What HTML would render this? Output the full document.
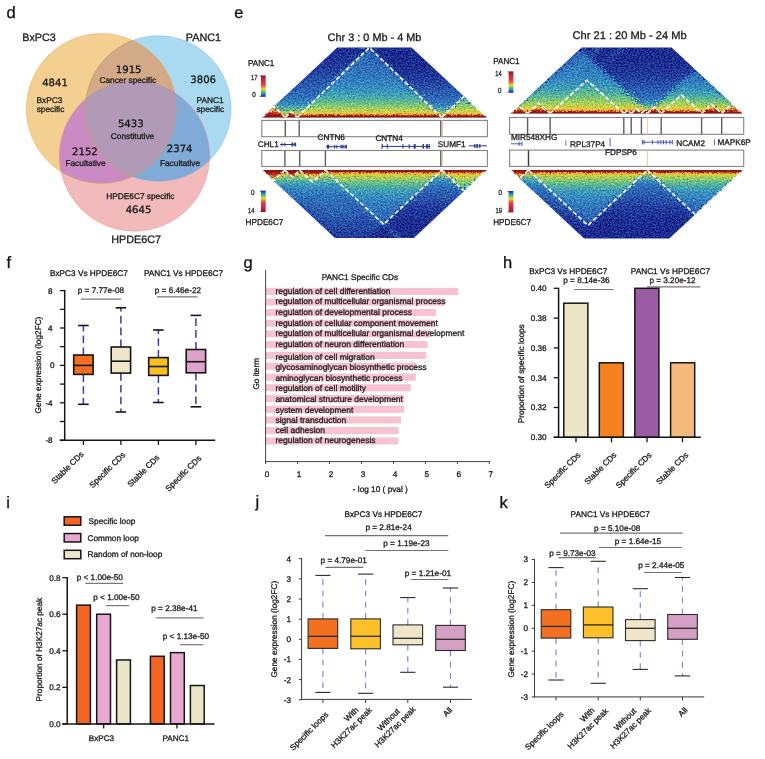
<!DOCTYPE html>
<html lang="en"><head><meta charset="utf-8"><title>Figure panels d-k</title>
<style>
html,body{margin:0;padding:0;background:#fff;}
body{width:765px;height:759px;overflow:hidden;}
svg{display:block;font-family:"Liberation Sans", Arial, sans-serif;}
</style></head><body>
<svg width="765" height="759" viewBox="0 0 765 759" text-rendering="geometricPrecision">
<rect width="765" height="759" fill="#ffffff"/>
<text x="6.60" y="18.20" font-size="16.5" text-anchor="start" fill="#111" stroke="#111" stroke-width="0.3">d</text>
<defs>
<clipPath id="cA"><circle cx="101.35" cy="108.55" r="75.0"/></clipPath>
<clipPath id="cB"><circle cx="158.25" cy="108.5" r="72.75"/></clipPath>
<clipPath id="cC"><circle cx="134.5" cy="156.1" r="75.1"/></clipPath>
</defs>
<circle cx="101.35" cy="108.55" r="75.0" fill="#F3CF92" stroke="none" stroke-width="0"/>
<circle cx="158.25" cy="108.5" r="72.75" fill="#AADAF2" stroke="none" stroke-width="0"/>
<circle cx="134.5" cy="156.1" r="75.1" fill="#F2BABB" stroke="none" stroke-width="0"/>
<circle cx="158.25" cy="108.5" r="72.75" fill="#D3AA87" stroke="none" stroke-width="0" clip-path="url(#cA)"/>
<circle cx="134.5" cy="156.1" r="75.1" fill="#CA8BC2" stroke="none" stroke-width="0" clip-path="url(#cA)"/>
<circle cx="134.5" cy="156.1" r="75.1" fill="#80AAD7" stroke="none" stroke-width="0" clip-path="url(#cB)"/>
<g clip-path="url(#cA)">
<circle cx="134.5" cy="156.1" r="75.1" fill="#B09AB6" stroke="none" stroke-width="0" clip-path="url(#cB)"/>
</g>
<circle cx="101.35" cy="108.55" r="75.0" fill="none" stroke="rgba(226,160,60,0.55)" stroke-width="0.8"/>
<circle cx="158.25" cy="108.5" r="72.75" fill="none" stroke="rgba(110,170,225,0.55)" stroke-width="0.8"/>
<circle cx="158.25" cy="108.5" r="72.75" fill="none" stroke="rgba(222,160,80,0.8)" stroke-width="0.9" clip-path="url(#cA)"/>
<circle cx="134.5" cy="156.1" r="75.1" fill="none" stroke="rgba(225,130,140,0.50)" stroke-width="0.8"/>
<text x="22.20" y="41.00" font-size="10.8" text-anchor="start" fill="#1a1a1a" stroke="#1a1a1a" stroke-width="0.3">BxPC3</text>
<text x="185.80" y="41.00" font-size="10.8" text-anchor="start" fill="#1a1a1a" stroke="#1a1a1a" stroke-width="0.3">PANC1</text>
<text x="111.30" y="242.60" font-size="10.8" text-anchor="start" fill="#1a1a1a" stroke="#1a1a1a" stroke-width="0.3">HPDE6C7</text>
<text x="55.00" y="85.60" font-size="10.1" text-anchor="middle" fill="#151515" stroke="#151515" stroke-width="0.3" font-family='"DejaVu Sans", "Liberation Sans", sans-serif'>4841</text>
<text x="128.70" y="72.80" font-size="10.1" text-anchor="middle" fill="#151515" stroke="#151515" stroke-width="0.3" font-family='"DejaVu Sans", "Liberation Sans", sans-serif'>1915</text>
<text x="203.20" y="83.00" font-size="10.1" text-anchor="middle" fill="#151515" stroke="#151515" stroke-width="0.3" font-family='"DejaVu Sans", "Liberation Sans", sans-serif'>3806</text>
<text x="130.80" y="127.40" font-size="10.1" text-anchor="middle" fill="#151515" stroke="#151515" stroke-width="0.3" font-family='"DejaVu Sans", "Liberation Sans", sans-serif'>5433</text>
<text x="84.90" y="155.30" font-size="10.1" text-anchor="middle" fill="#151515" stroke="#151515" stroke-width="0.3" font-family='"DejaVu Sans", "Liberation Sans", sans-serif'>2152</text>
<text x="179.70" y="151.60" font-size="10.1" text-anchor="middle" fill="#151515" stroke="#151515" stroke-width="0.3" font-family='"DejaVu Sans", "Liberation Sans", sans-serif'>2374</text>
<text x="138.50" y="213.20" font-size="10.1" text-anchor="middle" fill="#151515" stroke="#151515" stroke-width="0.3" font-family='"DejaVu Sans", "Liberation Sans", sans-serif'>4645</text>
<text x="127.80" y="83.10" font-size="8.3" text-anchor="middle" fill="#1a1a1a" stroke="#1a1a1a" stroke-width="0.3">Cancer specific</text>
<text x="49.50" y="102.90" font-size="8.3" text-anchor="middle" fill="#1a1a1a" stroke="#1a1a1a" stroke-width="0.3">BxPC3</text>
<text x="50.50" y="112.30" font-size="8.3" text-anchor="middle" fill="#1a1a1a" stroke="#1a1a1a" stroke-width="0.3">specific</text>
<text x="210.00" y="102.90" font-size="8.3" text-anchor="middle" fill="#1a1a1a" stroke="#1a1a1a" stroke-width="0.3">PANC1</text>
<text x="210.30" y="112.30" font-size="8.3" text-anchor="middle" fill="#1a1a1a" stroke="#1a1a1a" stroke-width="0.3">specific</text>
<text x="132.50" y="138.90" font-size="8.3" text-anchor="middle" fill="#1a1a1a" stroke="#1a1a1a" stroke-width="0.3">Constitutive</text>
<text x="85.50" y="165.60" font-size="8.3" text-anchor="middle" fill="#1a1a1a" stroke="#1a1a1a" stroke-width="0.3">Facultative</text>
<text x="180.00" y="165.60" font-size="8.3" text-anchor="middle" fill="#1a1a1a" stroke="#1a1a1a" stroke-width="0.3">Facultative</text>
<text x="140.40" y="198.80" font-size="8.3" text-anchor="middle" fill="#1a1a1a" stroke="#1a1a1a" stroke-width="0.3">HPDE6C7 specific</text>
<text x="234.20" y="18.10" font-size="16.5" text-anchor="start" fill="#111" stroke="#111" stroke-width="0.3">e</text>
<defs><filter id="hn1" x="-8%" y="-25%" width="116%" height="150%" color-interpolation-filters="sRGB">
<feTurbulence type="fractalNoise" baseFrequency="0.62" numOctaves="2" seed="7" result="n"/>
<feColorMatrix in="n" type="matrix" values="2.4 0 0 0 -0.7  0 2.4 0 0 -0.7  0 0 2.4 0 -0.7  0 0 0 0 1" result="n2"/>
<feDisplacementMap in="SourceGraphic" in2="n2" scale="3" xChannelSelector="R" yChannelSelector="G" result="d"/>
<feColorMatrix in="n2" type="matrix" values="0 0 0.06 0 0.220  0 0 0.1 0 0.200  0 0 0.04 0 0.230  0 0 0 0 1" result="n3"/>
<feComposite in="d" in2="n3" operator="arithmetic" k1="0" k2="1" k3="1" k4="-0.25"/>
</filter></defs>
<defs><filter id="hn2" x="-8%" y="-25%" width="116%" height="150%" color-interpolation-filters="sRGB">
<feTurbulence type="fractalNoise" baseFrequency="0.62" numOctaves="2" seed="7" result="n"/>
<feColorMatrix in="n" type="matrix" values="2.4 0 0 0 -0.7  0 2.4 0 0 -0.7  0 0 2.4 0 -0.7  0 0 0 0 1" result="n2"/>
<feDisplacementMap in="SourceGraphic" in2="n2" scale="8" xChannelSelector="R" yChannelSelector="G" result="d"/>
<feColorMatrix in="n2" type="matrix" values="0 0 0.1 0 0.200  0 0 0.22 0 0.140  0 0 0.08 0 0.210  0 0 0 0 1" result="n3"/>
<feComposite in="d" in2="n3" operator="arithmetic" k1="0" k2="1" k3="1" k4="-0.25"/>
</filter></defs>
<defs><filter id="hn3" x="-8%" y="-25%" width="116%" height="150%" color-interpolation-filters="sRGB">
<feTurbulence type="fractalNoise" baseFrequency="0.62" numOctaves="2" seed="7" result="n"/>
<feColorMatrix in="n" type="matrix" values="2.4 0 0 0 -0.7  0 2.4 0 0 -0.7  0 0 2.4 0 -0.7  0 0 0 0 1" result="n2"/>
<feDisplacementMap in="SourceGraphic" in2="n2" scale="9" xChannelSelector="R" yChannelSelector="G" result="d"/>
<feColorMatrix in="n2" type="matrix" values="0 0 0.08 0 0.210  0 0 0.3 0 0.100  0 0 0.1 0 0.200  0 0 0 0 1" result="n3"/>
<feComposite in="d" in2="n3" operator="arithmetic" k1="0" k2="1" k3="1" k4="-0.25"/>
</filter></defs>
<text x="374.50" y="41.00" font-size="10.9" text-anchor="middle" fill="#1a1a1a" stroke="#1a1a1a" stroke-width="0.3">Chr 3 : 0 Mb - 4 Mb</text>
<defs><clipPath id="clipA"><polygon points="262.00,117.40 337.25,47.40 411.55,47.40 486.80,117.40"/></clipPath>
<clipPath id="clipA0"><polygon points="262.00,117.40 269.52,110.40 479.28,110.40 486.80,117.40"/></clipPath>
<clipPath id="clipA1"><polygon points="268.67,111.20 284.36,96.60 464.44,96.60 480.13,111.20"/></clipPath>
<clipPath id="clipA2"><polygon points="283.50,97.40 337.25,47.40 411.55,47.40 465.30,97.40"/></clipPath>
<g id="hmA">
<defs><linearGradient id="hg1" gradientUnits="userSpaceOnUse" x1="0" y1="117.40" x2="0" y2="42.40"><stop offset="0.0000" stop-color="#7a1518"/><stop offset="0.0173" stop-color="#9c1c1c"/><stop offset="0.0293" stop-color="#cf3a22"/><stop offset="0.0387" stop-color="#e98a2e"/><stop offset="0.0426" stop-color="#e6cf3e"/><stop offset="0.0523" stop-color="#bfd44e"/><stop offset="0.0677" stop-color="#8fca68"/><stop offset="0.0875" stop-color="#5cb994"/><stop offset="0.1139" stop-color="#3f9fb6"/><stop offset="0.1491" stop-color="#3587c0"/><stop offset="0.1931" stop-color="#3175bc"/><stop offset="0.2459" stop-color="#2e68b6"/><stop offset="0.3119" stop-color="#2b5eb0"/><stop offset="0.3999" stop-color="#284fa6"/><stop offset="0.5099" stop-color="#213a9b"/><stop offset="0.6859" stop-color="#1c2c90"/><stop offset="1" stop-color="#1c2b8f"/></linearGradient></defs>
<rect x="248.0" y="33.4" width="252.8" height="98.0" fill="url(#hg1)"/>
<defs><linearGradient id="hg2" gradientUnits="userSpaceOnUse" x1="0" y1="117.40" x2="0" y2="42.40"><stop offset="0.0000" stop-color="#7a1518"/><stop offset="0.0173" stop-color="#9c1c1c"/><stop offset="0.0293" stop-color="#cf3a22"/><stop offset="0.0387" stop-color="#e98a2e"/><stop offset="0.0441" stop-color="#e6cf3e"/><stop offset="0.0573" stop-color="#bfd44e"/><stop offset="0.0783" stop-color="#8fca68"/><stop offset="0.1053" stop-color="#5cb994"/><stop offset="0.1413" stop-color="#3f9fb6"/><stop offset="0.1893" stop-color="#3587c0"/><stop offset="0.2493" stop-color="#3175bc"/><stop offset="0.3213" stop-color="#2e68b6"/><stop offset="0.4113" stop-color="#2b5eb0"/><stop offset="0.5313" stop-color="#284fa6"/><stop offset="0.6813" stop-color="#213a9b"/><stop offset="0.9213" stop-color="#1c2c90"/><stop offset="1" stop-color="#1c2c90"/></linearGradient></defs>
<polygon points="262.00,117.40 351.80,33.87 441.60,117.40" fill="url(#hg2)"/>
<defs><linearGradient id="hg3" gradientUnits="userSpaceOnUse" x1="0" y1="117.40" x2="0" y2="42.40"><stop offset="0.0000" stop-color="#7a1518"/><stop offset="0.0381" stop-color="#9c1c1c"/><stop offset="0.0645" stop-color="#cf3a22"/><stop offset="0.0851" stop-color="#e98a2e"/><stop offset="0.0947" stop-color="#e6cf3e"/><stop offset="0.1181" stop-color="#bfd44e"/><stop offset="0.1555" stop-color="#8fca68"/><stop offset="0.2035" stop-color="#5cb994"/><stop offset="0.2675" stop-color="#3f9fb6"/><stop offset="0.3528" stop-color="#3587c0"/><stop offset="0.4595" stop-color="#3175bc"/><stop offset="0.5875" stop-color="#2e68b6"/><stop offset="0.7475" stop-color="#2b5eb0"/><stop offset="0.9608" stop-color="#284fa6"/><stop offset="1" stop-color="#274ca4"/></linearGradient></defs>
<polygon points="262.00,117.40 273.65,106.56 285.30,117.40" fill="url(#hg3)"/>
<defs><linearGradient id="hg4" gradientUnits="userSpaceOnUse" x1="0" y1="117.40" x2="0" y2="42.40"><stop offset="0.0000" stop-color="#7a1518"/><stop offset="0.0381" stop-color="#9c1c1c"/><stop offset="0.0645" stop-color="#cf3a22"/><stop offset="0.0851" stop-color="#e98a2e"/><stop offset="0.0947" stop-color="#e6cf3e"/><stop offset="0.1181" stop-color="#bfd44e"/><stop offset="0.1555" stop-color="#8fca68"/><stop offset="0.2035" stop-color="#5cb994"/><stop offset="0.2675" stop-color="#3f9fb6"/><stop offset="0.3528" stop-color="#3587c0"/><stop offset="0.4595" stop-color="#3175bc"/><stop offset="0.5875" stop-color="#2e68b6"/><stop offset="0.7475" stop-color="#2b5eb0"/><stop offset="0.9608" stop-color="#284fa6"/><stop offset="1" stop-color="#274ca4"/></linearGradient></defs>
<polygon points="285.30,117.40 291.25,111.87 297.20,117.40" fill="url(#hg4)"/>
<defs><linearGradient id="hg5" gradientUnits="userSpaceOnUse" x1="0" y1="117.40" x2="0" y2="42.40"><stop offset="0.0000" stop-color="#7a1518"/><stop offset="0.0173" stop-color="#9c1c1c"/><stop offset="0.0293" stop-color="#cf3a22"/><stop offset="0.0387" stop-color="#e98a2e"/><stop offset="0.0525" stop-color="#e6cf3e"/><stop offset="0.0862" stop-color="#bfd44e"/><stop offset="0.1399" stop-color="#8fca68"/><stop offset="0.2089" stop-color="#5cb994"/><stop offset="0.3009" stop-color="#3f9fb6"/><stop offset="0.4235" stop-color="#3587c0"/><stop offset="0.5769" stop-color="#3175bc"/><stop offset="0.7609" stop-color="#2e68b6"/><stop offset="0.9909" stop-color="#2b5eb0"/><stop offset="1" stop-color="#2b5eb0"/></linearGradient></defs>
<polygon points="297.20,117.40 369.40,47.64 441.60,117.40" fill="url(#hg5)"/>
<defs><linearGradient id="hg6" gradientUnits="userSpaceOnUse" x1="0" y1="117.40" x2="0" y2="42.40"><stop offset="0.0000" stop-color="#7a1518"/><stop offset="0.0173" stop-color="#9c1c1c"/><stop offset="0.0293" stop-color="#cf3a22"/><stop offset="0.0387" stop-color="#e98a2e"/><stop offset="0.0543" stop-color="#e6cf3e"/><stop offset="0.0924" stop-color="#bfd44e"/><stop offset="0.1531" stop-color="#8fca68"/><stop offset="0.2311" stop-color="#5cb994"/><stop offset="0.3351" stop-color="#3f9fb6"/><stop offset="0.4737" stop-color="#3587c0"/><stop offset="0.6471" stop-color="#3175bc"/><stop offset="0.8551" stop-color="#2e68b6"/><stop offset="1" stop-color="#2c62b3"/></linearGradient></defs>
<polygon points="441.60,117.40 464.20,96.38 486.80,117.40" fill="url(#hg6)"/>
<line x1="329.25" y1="87.40" x2="372.72" y2="45.40" stroke="#44a6c4" stroke-width="3.0" stroke-opacity="0.55"/>
</g></defs>
<g clip-path="url(#clipA0)"><use href="#hmA" filter="url(#hn1)"/></g>
<g clip-path="url(#clipA1)"><use href="#hmA" filter="url(#hn2)"/></g>
<g clip-path="url(#clipA2)"><use href="#hmA" filter="url(#hn3)"/></g>
<rect x="262.0" y="115.90" width="224.8" height="1.5" fill="#84181a" clip-path="url(#clipA)"/>
<g clip-path="url(#clipA)" fill="none" stroke="#ffffff" stroke-width="1.6" stroke-dasharray="4.4 2.4">
<polyline points="262.00,117.40 273.65,106.56 285.30,117.40"/>
<polyline points="285.30,117.40 291.25,111.87 297.20,117.40"/>
<polyline points="297.20,117.40 369.40,47.64 441.60,117.40"/>
<polyline points="441.60,117.40 464.20,96.38 486.80,117.40"/>
</g>
<defs><clipPath id="clipB"><polygon points="262.00,170.10 334.99,238.00 413.81,238.00 486.80,170.10"/></clipPath>
<clipPath id="clipB0"><polygon points="262.00,170.10 269.52,177.10 479.28,177.10 486.80,170.10"/></clipPath>
<clipPath id="clipB1"><polygon points="268.67,176.30 284.36,190.90 464.44,190.90 480.13,176.30"/></clipPath>
<clipPath id="clipB2"><polygon points="283.50,190.10 334.99,238.00 413.81,238.00 465.30,190.10"/></clipPath>
<g id="hmB">
<defs><linearGradient id="hg7" gradientUnits="userSpaceOnUse" x1="0" y1="170.10" x2="0" y2="245.10"><stop offset="0.0000" stop-color="#7a1518"/><stop offset="0.0173" stop-color="#9c1c1c"/><stop offset="0.0293" stop-color="#cf3a22"/><stop offset="0.0387" stop-color="#e98a2e"/><stop offset="0.0426" stop-color="#e6cf3e"/><stop offset="0.0523" stop-color="#bfd44e"/><stop offset="0.0677" stop-color="#8fca68"/><stop offset="0.0875" stop-color="#5cb994"/><stop offset="0.1139" stop-color="#3f9fb6"/><stop offset="0.1491" stop-color="#3587c0"/><stop offset="0.1931" stop-color="#3175bc"/><stop offset="0.2459" stop-color="#2e68b6"/><stop offset="0.3119" stop-color="#2b5eb0"/><stop offset="0.3999" stop-color="#284fa6"/><stop offset="0.5099" stop-color="#213a9b"/><stop offset="0.6859" stop-color="#1c2c90"/><stop offset="1" stop-color="#1c2b8f"/></linearGradient></defs>
<rect x="248.0" y="156.1" width="252.8" height="95.9" fill="url(#hg7)"/>
<defs><linearGradient id="hg8" gradientUnits="userSpaceOnUse" x1="0" y1="170.10" x2="0" y2="245.10"><stop offset="0.0000" stop-color="#7a1518"/><stop offset="0.0173" stop-color="#9c1c1c"/><stop offset="0.0293" stop-color="#cf3a22"/><stop offset="0.0387" stop-color="#e98a2e"/><stop offset="0.0459" stop-color="#e6cf3e"/><stop offset="0.0635" stop-color="#bfd44e"/><stop offset="0.0915" stop-color="#8fca68"/><stop offset="0.1275" stop-color="#5cb994"/><stop offset="0.1755" stop-color="#3f9fb6"/><stop offset="0.2395" stop-color="#3587c0"/><stop offset="0.3195" stop-color="#3175bc"/><stop offset="0.4155" stop-color="#2e68b6"/><stop offset="0.5355" stop-color="#2b5eb0"/><stop offset="0.6955" stop-color="#284fa6"/><stop offset="0.8955" stop-color="#213a9b"/><stop offset="1" stop-color="#1f3597"/></linearGradient></defs>
<polygon points="262.00,170.10 351.90,253.73 441.80,170.10" fill="url(#hg8)"/>
<defs><linearGradient id="hg9" gradientUnits="userSpaceOnUse" x1="0" y1="170.10" x2="0" y2="245.10"><stop offset="0.0000" stop-color="#7a1518"/><stop offset="0.0381" stop-color="#9c1c1c"/><stop offset="0.0645" stop-color="#cf3a22"/><stop offset="0.0851" stop-color="#e98a2e"/><stop offset="0.0947" stop-color="#e6cf3e"/><stop offset="0.1181" stop-color="#bfd44e"/><stop offset="0.1555" stop-color="#8fca68"/><stop offset="0.2035" stop-color="#5cb994"/><stop offset="0.2675" stop-color="#3f9fb6"/><stop offset="0.3528" stop-color="#3587c0"/><stop offset="0.4595" stop-color="#3175bc"/><stop offset="0.5875" stop-color="#2e68b6"/><stop offset="0.7475" stop-color="#2b5eb0"/><stop offset="0.9608" stop-color="#284fa6"/><stop offset="1" stop-color="#274ca4"/></linearGradient></defs>
<polygon points="262.00,170.10 273.45,180.75 284.90,170.10" fill="url(#hg9)"/>
<defs><linearGradient id="hg10" gradientUnits="userSpaceOnUse" x1="0" y1="170.10" x2="0" y2="245.10"><stop offset="0.0000" stop-color="#7a1518"/><stop offset="0.0381" stop-color="#9c1c1c"/><stop offset="0.0645" stop-color="#cf3a22"/><stop offset="0.0851" stop-color="#e98a2e"/><stop offset="0.0947" stop-color="#e6cf3e"/><stop offset="0.1181" stop-color="#bfd44e"/><stop offset="0.1555" stop-color="#8fca68"/><stop offset="0.2035" stop-color="#5cb994"/><stop offset="0.2675" stop-color="#3f9fb6"/><stop offset="0.3528" stop-color="#3587c0"/><stop offset="0.4595" stop-color="#3175bc"/><stop offset="0.5875" stop-color="#2e68b6"/><stop offset="0.7475" stop-color="#2b5eb0"/><stop offset="0.9608" stop-color="#284fa6"/><stop offset="1" stop-color="#274ca4"/></linearGradient></defs>
<polygon points="284.90,170.10 292.30,176.98 299.70,170.10" fill="url(#hg10)"/>
<defs><linearGradient id="hg11" gradientUnits="userSpaceOnUse" x1="0" y1="170.10" x2="0" y2="245.10"><stop offset="0.0000" stop-color="#7a1518"/><stop offset="0.0277" stop-color="#9c1c1c"/><stop offset="0.0469" stop-color="#cf3a22"/><stop offset="0.0619" stop-color="#e98a2e"/><stop offset="0.0715" stop-color="#e6cf3e"/><stop offset="0.0949" stop-color="#bfd44e"/><stop offset="0.1323" stop-color="#8fca68"/><stop offset="0.1803" stop-color="#5cb994"/><stop offset="0.2443" stop-color="#3f9fb6"/><stop offset="0.3296" stop-color="#3587c0"/><stop offset="0.4363" stop-color="#3175bc"/><stop offset="0.5643" stop-color="#2e68b6"/><stop offset="0.7243" stop-color="#2b5eb0"/><stop offset="0.9376" stop-color="#284fa6"/><stop offset="1" stop-color="#264aa3"/></linearGradient></defs>
<polygon points="299.70,170.10 312.55,182.05 325.40,170.10" fill="url(#hg11)"/>
<defs><linearGradient id="hg12" gradientUnits="userSpaceOnUse" x1="0" y1="170.10" x2="0" y2="245.10"><stop offset="0.0000" stop-color="#7a1518"/><stop offset="0.0173" stop-color="#9c1c1c"/><stop offset="0.0293" stop-color="#cf3a22"/><stop offset="0.0387" stop-color="#e98a2e"/><stop offset="0.0507" stop-color="#e6cf3e"/><stop offset="0.0800" stop-color="#bfd44e"/><stop offset="0.1267" stop-color="#8fca68"/><stop offset="0.1867" stop-color="#5cb994"/><stop offset="0.2667" stop-color="#3f9fb6"/><stop offset="0.3733" stop-color="#3587c0"/><stop offset="0.5067" stop-color="#3175bc"/><stop offset="0.6667" stop-color="#2e68b6"/><stop offset="0.8667" stop-color="#2b5eb0"/><stop offset="1" stop-color="#2a56ab"/></linearGradient></defs>
<polygon points="325.40,170.10 383.60,224.24 441.80,170.10" fill="url(#hg12)"/>
<defs><linearGradient id="hg13" gradientUnits="userSpaceOnUse" x1="0" y1="170.10" x2="0" y2="245.10"><stop offset="0.0000" stop-color="#7a1518"/><stop offset="0.0173" stop-color="#9c1c1c"/><stop offset="0.0293" stop-color="#cf3a22"/><stop offset="0.0387" stop-color="#e98a2e"/><stop offset="0.0543" stop-color="#e6cf3e"/><stop offset="0.0924" stop-color="#bfd44e"/><stop offset="0.1531" stop-color="#8fca68"/><stop offset="0.2311" stop-color="#5cb994"/><stop offset="0.3351" stop-color="#3f9fb6"/><stop offset="0.4737" stop-color="#3587c0"/><stop offset="0.6471" stop-color="#3175bc"/><stop offset="0.8551" stop-color="#2e68b6"/><stop offset="1" stop-color="#2c62b3"/></linearGradient></defs>
<polygon points="441.80,170.10 464.30,191.03 486.80,170.10" fill="url(#hg13)"/>
<line x1="350.05" y1="192.10" x2="403.80" y2="242.10" stroke="#47a8c6" stroke-width="3.0" stroke-opacity="0.45"/>
<line x1="303.20" y1="186.10" x2="339.75" y2="220.10" stroke="#3f95c4" stroke-width="2.6" stroke-opacity="0.45"/>
<line x1="318.00" y1="186.10" x2="354.55" y2="220.10" stroke="#3f95c4" stroke-width="2.6" stroke-opacity="0.45"/>
</g></defs>
<g clip-path="url(#clipB0)"><use href="#hmB" filter="url(#hn1)"/></g>
<g clip-path="url(#clipB1)"><use href="#hmB" filter="url(#hn2)"/></g>
<g clip-path="url(#clipB2)"><use href="#hmB" filter="url(#hn3)"/></g>
<rect x="262.0" y="170.10" width="224.8" height="1.5" fill="#84181a" clip-path="url(#clipB)"/>
<g clip-path="url(#clipB)" fill="none" stroke="#ffffff" stroke-width="1.6" stroke-dasharray="4.4 2.4">
<polyline points="262.00,170.10 273.45,180.75 284.90,170.10"/>
<polyline points="284.90,170.10 292.30,176.98 299.70,170.10"/>
<polyline points="299.70,170.10 312.55,182.05 325.40,170.10"/>
<polyline points="325.40,170.10 383.60,224.24 441.80,170.10"/>
<polyline points="441.80,170.10 464.30,191.03 486.80,170.10"/>
</g>
<text x="629.60" y="39.00" font-size="11.1" text-anchor="middle" fill="#1a1a1a" stroke="#1a1a1a" stroke-width="0.3">Chr 21 : 20 Mb - 24 Mb</text>
<defs><clipPath id="clipC"><polygon points="510.50,113.50 581.56,47.40 671.54,47.40 742.60,113.50"/></clipPath>
<clipPath id="clipC0"><polygon points="510.50,113.50 518.02,106.50 735.08,106.50 742.60,113.50"/></clipPath>
<clipPath id="clipC1"><polygon points="517.16,107.30 532.86,92.70 720.24,92.70 735.94,107.30"/></clipPath>
<clipPath id="clipC2"><polygon points="532.00,93.50 581.56,47.40 671.54,47.40 721.10,93.50"/></clipPath>
<g id="hmC">
<defs><linearGradient id="hg14" gradientUnits="userSpaceOnUse" x1="0" y1="113.50" x2="0" y2="38.50"><stop offset="0.0000" stop-color="#7a1518"/><stop offset="0.0173" stop-color="#9c1c1c"/><stop offset="0.0293" stop-color="#cf3a22"/><stop offset="0.0387" stop-color="#e98a2e"/><stop offset="0.0426" stop-color="#e6cf3e"/><stop offset="0.0523" stop-color="#bfd44e"/><stop offset="0.0677" stop-color="#8fca68"/><stop offset="0.0875" stop-color="#5cb994"/><stop offset="0.1139" stop-color="#3f9fb6"/><stop offset="0.1491" stop-color="#3587c0"/><stop offset="0.1931" stop-color="#3175bc"/><stop offset="0.2459" stop-color="#2e68b6"/><stop offset="0.3119" stop-color="#2b5eb0"/><stop offset="0.3999" stop-color="#284fa6"/><stop offset="0.5099" stop-color="#213a9b"/><stop offset="0.6859" stop-color="#1c2c90"/><stop offset="1" stop-color="#1c2b8f"/></linearGradient></defs>
<rect x="496.5" y="33.4" width="260.1" height="94.1" fill="url(#hg14)"/>
<defs><linearGradient id="hg15" gradientUnits="userSpaceOnUse" x1="0" y1="113.50" x2="0" y2="38.50"><stop offset="0.0000" stop-color="#7a1518"/><stop offset="0.0173" stop-color="#9c1c1c"/><stop offset="0.0293" stop-color="#cf3a22"/><stop offset="0.0387" stop-color="#e98a2e"/><stop offset="0.0537" stop-color="#e6cf3e"/><stop offset="0.0903" stop-color="#bfd44e"/><stop offset="0.1487" stop-color="#8fca68"/><stop offset="0.2237" stop-color="#5cb994"/><stop offset="0.3237" stop-color="#3f9fb6"/><stop offset="0.4570" stop-color="#3587c0"/><stop offset="0.6237" stop-color="#3175bc"/><stop offset="0.8237" stop-color="#2e68b6"/><stop offset="1" stop-color="#2c61b2"/></linearGradient></defs>
<polygon points="510.50,113.50 580.00,48.85 649.50,113.50" fill="url(#hg15)"/>
<defs><linearGradient id="hg16" gradientUnits="userSpaceOnUse" x1="0" y1="113.50" x2="0" y2="38.50"><stop offset="0.0000" stop-color="#7a1518"/><stop offset="0.0173" stop-color="#9c1c1c"/><stop offset="0.0293" stop-color="#cf3a22"/><stop offset="0.0387" stop-color="#e98a2e"/><stop offset="0.0507" stop-color="#e6cf3e"/><stop offset="0.0800" stop-color="#bfd44e"/><stop offset="0.1267" stop-color="#8fca68"/><stop offset="0.1867" stop-color="#5cb994"/><stop offset="0.2667" stop-color="#3f9fb6"/><stop offset="0.3733" stop-color="#3587c0"/><stop offset="0.5067" stop-color="#3175bc"/><stop offset="0.6667" stop-color="#2e68b6"/><stop offset="0.8667" stop-color="#2b5eb0"/><stop offset="1" stop-color="#2a56ab"/></linearGradient></defs>
<polygon points="647.30,113.50 694.95,69.17 742.60,113.50" fill="url(#hg16)"/>
<defs><linearGradient id="hg17" gradientUnits="userSpaceOnUse" x1="0" y1="113.50" x2="0" y2="38.50"><stop offset="0.0000" stop-color="#7a1518"/><stop offset="0.0277" stop-color="#9c1c1c"/><stop offset="0.0469" stop-color="#cf3a22"/><stop offset="0.0619" stop-color="#e98a2e"/><stop offset="0.0715" stop-color="#e6cf3e"/><stop offset="0.0949" stop-color="#bfd44e"/><stop offset="0.1323" stop-color="#8fca68"/><stop offset="0.1803" stop-color="#5cb994"/><stop offset="0.2443" stop-color="#3f9fb6"/><stop offset="0.3296" stop-color="#3587c0"/><stop offset="0.4363" stop-color="#3175bc"/><stop offset="0.5643" stop-color="#2e68b6"/><stop offset="0.7243" stop-color="#2b5eb0"/><stop offset="0.9376" stop-color="#284fa6"/><stop offset="1" stop-color="#264aa3"/></linearGradient></defs>
<polygon points="510.50,113.50 518.95,105.64 527.40,113.50" fill="url(#hg17)"/>
<defs><linearGradient id="hg18" gradientUnits="userSpaceOnUse" x1="0" y1="113.50" x2="0" y2="38.50"><stop offset="0.0000" stop-color="#7a1518"/><stop offset="0.0277" stop-color="#9c1c1c"/><stop offset="0.0469" stop-color="#cf3a22"/><stop offset="0.0619" stop-color="#e98a2e"/><stop offset="0.0715" stop-color="#e6cf3e"/><stop offset="0.0949" stop-color="#bfd44e"/><stop offset="0.1323" stop-color="#8fca68"/><stop offset="0.1803" stop-color="#5cb994"/><stop offset="0.2443" stop-color="#3f9fb6"/><stop offset="0.3296" stop-color="#3587c0"/><stop offset="0.4363" stop-color="#3175bc"/><stop offset="0.5643" stop-color="#2e68b6"/><stop offset="0.7243" stop-color="#2b5eb0"/><stop offset="0.9376" stop-color="#284fa6"/><stop offset="1" stop-color="#264aa3"/></linearGradient></defs>
<polygon points="527.40,113.50 538.70,102.99 550.00,113.50" fill="url(#hg18)"/>
<defs><linearGradient id="hg19" gradientUnits="userSpaceOnUse" x1="0" y1="113.50" x2="0" y2="38.50"><stop offset="0.0000" stop-color="#7a1518"/><stop offset="0.0173" stop-color="#9c1c1c"/><stop offset="0.0293" stop-color="#cf3a22"/><stop offset="0.0387" stop-color="#e98a2e"/><stop offset="0.0579" stop-color="#e6cf3e"/><stop offset="0.1048" stop-color="#bfd44e"/><stop offset="0.1795" stop-color="#8fca68"/><stop offset="0.2755" stop-color="#5cb994"/><stop offset="0.4035" stop-color="#3f9fb6"/><stop offset="0.5741" stop-color="#3587c0"/><stop offset="0.7875" stop-color="#3175bc"/><stop offset="1" stop-color="#2f6ab7"/></linearGradient></defs>
<polygon points="550.00,113.50 586.95,80.21 623.90,113.50" fill="url(#hg19)"/>
<defs><linearGradient id="hg20" gradientUnits="userSpaceOnUse" x1="0" y1="113.50" x2="0" y2="38.50"><stop offset="0.0000" stop-color="#7a1518"/><stop offset="0.0277" stop-color="#9c1c1c"/><stop offset="0.0469" stop-color="#cf3a22"/><stop offset="0.0619" stop-color="#e98a2e"/><stop offset="0.0715" stop-color="#e6cf3e"/><stop offset="0.0949" stop-color="#bfd44e"/><stop offset="0.1323" stop-color="#8fca68"/><stop offset="0.1803" stop-color="#5cb994"/><stop offset="0.2443" stop-color="#3f9fb6"/><stop offset="0.3296" stop-color="#3587c0"/><stop offset="0.4363" stop-color="#3175bc"/><stop offset="0.5643" stop-color="#2e68b6"/><stop offset="0.7243" stop-color="#2b5eb0"/><stop offset="0.9376" stop-color="#284fa6"/><stop offset="1" stop-color="#264aa3"/></linearGradient></defs>
<polygon points="623.90,113.50 627.60,110.06 631.30,113.50" fill="url(#hg20)"/>
<defs><linearGradient id="hg21" gradientUnits="userSpaceOnUse" x1="0" y1="113.50" x2="0" y2="38.50"><stop offset="0.0000" stop-color="#7a1518"/><stop offset="0.0277" stop-color="#9c1c1c"/><stop offset="0.0469" stop-color="#cf3a22"/><stop offset="0.0619" stop-color="#e98a2e"/><stop offset="0.0715" stop-color="#e6cf3e"/><stop offset="0.0949" stop-color="#bfd44e"/><stop offset="0.1323" stop-color="#8fca68"/><stop offset="0.1803" stop-color="#5cb994"/><stop offset="0.2443" stop-color="#3f9fb6"/><stop offset="0.3296" stop-color="#3587c0"/><stop offset="0.4363" stop-color="#3175bc"/><stop offset="0.5643" stop-color="#2e68b6"/><stop offset="0.7243" stop-color="#2b5eb0"/><stop offset="0.9376" stop-color="#284fa6"/><stop offset="1" stop-color="#264aa3"/></linearGradient></defs>
<polygon points="631.30,113.50 636.25,108.90 641.20,113.50" fill="url(#hg21)"/>
<defs><linearGradient id="hg22" gradientUnits="userSpaceOnUse" x1="0" y1="113.50" x2="0" y2="38.50"><stop offset="0.0000" stop-color="#7a1518"/><stop offset="0.0277" stop-color="#9c1c1c"/><stop offset="0.0469" stop-color="#cf3a22"/><stop offset="0.0619" stop-color="#e98a2e"/><stop offset="0.0715" stop-color="#e6cf3e"/><stop offset="0.0949" stop-color="#bfd44e"/><stop offset="0.1323" stop-color="#8fca68"/><stop offset="0.1803" stop-color="#5cb994"/><stop offset="0.2443" stop-color="#3f9fb6"/><stop offset="0.3296" stop-color="#3587c0"/><stop offset="0.4363" stop-color="#3175bc"/><stop offset="0.5643" stop-color="#2e68b6"/><stop offset="0.7243" stop-color="#2b5eb0"/><stop offset="0.9376" stop-color="#284fa6"/><stop offset="1" stop-color="#264aa3"/></linearGradient></defs>
<polygon points="641.20,113.50 644.25,110.66 647.30,113.50" fill="url(#hg22)"/>
<defs><linearGradient id="hg23" gradientUnits="userSpaceOnUse" x1="0" y1="113.50" x2="0" y2="38.50"><stop offset="0.0000" stop-color="#7a1518"/><stop offset="0.0277" stop-color="#9c1c1c"/><stop offset="0.0469" stop-color="#cf3a22"/><stop offset="0.0619" stop-color="#e98a2e"/><stop offset="0.0715" stop-color="#e6cf3e"/><stop offset="0.0949" stop-color="#bfd44e"/><stop offset="0.1323" stop-color="#8fca68"/><stop offset="0.1803" stop-color="#5cb994"/><stop offset="0.2443" stop-color="#3f9fb6"/><stop offset="0.3296" stop-color="#3587c0"/><stop offset="0.4363" stop-color="#3175bc"/><stop offset="0.5643" stop-color="#2e68b6"/><stop offset="0.7243" stop-color="#2b5eb0"/><stop offset="0.9376" stop-color="#284fa6"/><stop offset="1" stop-color="#264aa3"/></linearGradient></defs>
<polygon points="647.30,113.50 654.30,106.99 661.30,113.50" fill="url(#hg23)"/>
<defs><linearGradient id="hg24" gradientUnits="userSpaceOnUse" x1="0" y1="113.50" x2="0" y2="38.50"><stop offset="0.0000" stop-color="#7a1518"/><stop offset="0.0173" stop-color="#9c1c1c"/><stop offset="0.0293" stop-color="#cf3a22"/><stop offset="0.0387" stop-color="#e98a2e"/><stop offset="0.0567" stop-color="#e6cf3e"/><stop offset="0.1007" stop-color="#bfd44e"/><stop offset="0.1707" stop-color="#8fca68"/><stop offset="0.2607" stop-color="#5cb994"/><stop offset="0.3807" stop-color="#3f9fb6"/><stop offset="0.5407" stop-color="#3587c0"/><stop offset="0.7407" stop-color="#3175bc"/><stop offset="0.9807" stop-color="#2e68b6"/><stop offset="1" stop-color="#2e67b6"/></linearGradient></defs>
<polygon points="661.30,113.50 681.40,94.80 701.50,113.50" fill="url(#hg24)"/>
<defs><linearGradient id="hg25" gradientUnits="userSpaceOnUse" x1="0" y1="113.50" x2="0" y2="38.50"><stop offset="0.0000" stop-color="#7a1518"/><stop offset="0.0277" stop-color="#9c1c1c"/><stop offset="0.0469" stop-color="#cf3a22"/><stop offset="0.0619" stop-color="#e98a2e"/><stop offset="0.0715" stop-color="#e6cf3e"/><stop offset="0.0949" stop-color="#bfd44e"/><stop offset="0.1323" stop-color="#8fca68"/><stop offset="0.1803" stop-color="#5cb994"/><stop offset="0.2443" stop-color="#3f9fb6"/><stop offset="0.3296" stop-color="#3587c0"/><stop offset="0.4363" stop-color="#3175bc"/><stop offset="0.5643" stop-color="#2e68b6"/><stop offset="0.7243" stop-color="#2b5eb0"/><stop offset="0.9376" stop-color="#284fa6"/><stop offset="1" stop-color="#264aa3"/></linearGradient></defs>
<polygon points="701.50,113.50 711.55,104.15 721.60,113.50" fill="url(#hg25)"/>
<defs><linearGradient id="hg26" gradientUnits="userSpaceOnUse" x1="0" y1="113.50" x2="0" y2="38.50"><stop offset="0.0000" stop-color="#7a1518"/><stop offset="0.0277" stop-color="#9c1c1c"/><stop offset="0.0469" stop-color="#cf3a22"/><stop offset="0.0619" stop-color="#e98a2e"/><stop offset="0.0715" stop-color="#e6cf3e"/><stop offset="0.0949" stop-color="#bfd44e"/><stop offset="0.1323" stop-color="#8fca68"/><stop offset="0.1803" stop-color="#5cb994"/><stop offset="0.2443" stop-color="#3f9fb6"/><stop offset="0.3296" stop-color="#3587c0"/><stop offset="0.4363" stop-color="#3175bc"/><stop offset="0.5643" stop-color="#2e68b6"/><stop offset="0.7243" stop-color="#2b5eb0"/><stop offset="0.9376" stop-color="#284fa6"/><stop offset="1" stop-color="#264aa3"/></linearGradient></defs>
<polygon points="721.60,113.50 732.10,103.73 742.60,113.50" fill="url(#hg26)"/>
<line x1="554.20" y1="89.50" x2="603.65" y2="43.50" stroke="#44a6c4" stroke-width="3.0" stroke-opacity="0.45"/>
<line x1="589.70" y1="77.50" x2="626.25" y2="43.50" stroke="#3f9ac4" stroke-width="2.6" stroke-opacity="0.35"/>
</g></defs>
<g clip-path="url(#clipC0)"><use href="#hmC" filter="url(#hn1)"/></g>
<g clip-path="url(#clipC1)"><use href="#hmC" filter="url(#hn2)"/></g>
<g clip-path="url(#clipC2)"><use href="#hmC" filter="url(#hn3)"/></g>
<rect x="510.5" y="112.00" width="232.1" height="1.5" fill="#84181a" clip-path="url(#clipC)"/>
<g clip-path="url(#clipC)" fill="none" stroke="#ffffff" stroke-width="1.6" stroke-dasharray="4.4 2.4">
<polyline points="510.50,113.50 518.95,105.64 527.40,113.50"/>
<polyline points="527.40,113.50 538.70,102.99 550.00,113.50"/>
<polyline points="550.00,113.50 586.95,80.21 623.90,113.50"/>
<polyline points="623.90,113.50 627.60,110.06 631.30,113.50"/>
<polyline points="631.30,113.50 636.25,108.90 641.20,113.50"/>
<polyline points="641.20,113.50 644.25,110.66 647.30,113.50"/>
<polyline points="647.30,113.50 654.30,106.99 661.30,113.50"/>
<polyline points="661.30,113.50 681.40,94.80 701.50,113.50"/>
<polyline points="701.50,113.50 711.55,104.15 721.60,113.50"/>
<polyline points="721.60,113.50 732.10,103.73 742.60,113.50"/>
</g>
<defs><clipPath id="clipD"><polygon points="510.50,170.10 584.14,238.60 669.36,238.60 743.00,170.10"/></clipPath>
<clipPath id="clipD0"><polygon points="510.50,170.10 518.02,177.10 735.48,177.10 743.00,170.10"/></clipPath>
<clipPath id="clipD1"><polygon points="517.16,176.30 532.86,190.90 720.64,190.90 736.34,176.30"/></clipPath>
<clipPath id="clipD2"><polygon points="532.00,190.10 584.14,238.60 669.36,238.60 721.50,190.10"/></clipPath>
<g id="hmD">
<defs><linearGradient id="hg27" gradientUnits="userSpaceOnUse" x1="0" y1="170.10" x2="0" y2="245.10"><stop offset="0.0000" stop-color="#7a1518"/><stop offset="0.0173" stop-color="#9c1c1c"/><stop offset="0.0293" stop-color="#cf3a22"/><stop offset="0.0387" stop-color="#e98a2e"/><stop offset="0.0426" stop-color="#e6cf3e"/><stop offset="0.0523" stop-color="#bfd44e"/><stop offset="0.0677" stop-color="#8fca68"/><stop offset="0.0875" stop-color="#5cb994"/><stop offset="0.1139" stop-color="#3f9fb6"/><stop offset="0.1491" stop-color="#3587c0"/><stop offset="0.1931" stop-color="#3175bc"/><stop offset="0.2459" stop-color="#2e68b6"/><stop offset="0.3119" stop-color="#2b5eb0"/><stop offset="0.3999" stop-color="#284fa6"/><stop offset="0.5099" stop-color="#213a9b"/><stop offset="0.6859" stop-color="#1c2c90"/><stop offset="1" stop-color="#1c2b8f"/></linearGradient></defs>
<rect x="496.5" y="156.1" width="260.5" height="96.5" fill="url(#hg27)"/>
<defs><linearGradient id="hg28" gradientUnits="userSpaceOnUse" x1="0" y1="170.10" x2="0" y2="245.10"><stop offset="0.0000" stop-color="#7a1518"/><stop offset="0.0173" stop-color="#9c1c1c"/><stop offset="0.0293" stop-color="#cf3a22"/><stop offset="0.0387" stop-color="#e98a2e"/><stop offset="0.0437" stop-color="#e6cf3e"/><stop offset="0.0560" stop-color="#bfd44e"/><stop offset="0.0756" stop-color="#8fca68"/><stop offset="0.1008" stop-color="#5cb994"/><stop offset="0.1344" stop-color="#3f9fb6"/><stop offset="0.1792" stop-color="#3587c0"/><stop offset="0.2352" stop-color="#3175bc"/><stop offset="0.3024" stop-color="#2e68b6"/><stop offset="0.3864" stop-color="#2b5eb0"/><stop offset="0.4984" stop-color="#284fa6"/><stop offset="0.6384" stop-color="#213a9b"/><stop offset="0.8624" stop-color="#1c2c90"/><stop offset="1" stop-color="#1c2c90"/></linearGradient></defs>
<polygon points="510.50,170.10 578.90,233.73 647.30,170.10" fill="url(#hg28)"/>
<defs><linearGradient id="hg29" gradientUnits="userSpaceOnUse" x1="0" y1="170.10" x2="0" y2="245.10"><stop offset="0.0000" stop-color="#7a1518"/><stop offset="0.0277" stop-color="#9c1c1c"/><stop offset="0.0469" stop-color="#cf3a22"/><stop offset="0.0619" stop-color="#e98a2e"/><stop offset="0.0715" stop-color="#e6cf3e"/><stop offset="0.0949" stop-color="#bfd44e"/><stop offset="0.1323" stop-color="#8fca68"/><stop offset="0.1803" stop-color="#5cb994"/><stop offset="0.2443" stop-color="#3f9fb6"/><stop offset="0.3296" stop-color="#3587c0"/><stop offset="0.4363" stop-color="#3175bc"/><stop offset="0.5643" stop-color="#2e68b6"/><stop offset="0.7243" stop-color="#2b5eb0"/><stop offset="0.9376" stop-color="#284fa6"/><stop offset="1" stop-color="#264aa3"/></linearGradient></defs>
<polygon points="510.50,170.10 519.50,178.47 528.50,170.10" fill="url(#hg29)"/>
<defs><linearGradient id="hg30" gradientUnits="userSpaceOnUse" x1="0" y1="170.10" x2="0" y2="245.10"><stop offset="0.0000" stop-color="#7a1518"/><stop offset="0.0173" stop-color="#9c1c1c"/><stop offset="0.0293" stop-color="#cf3a22"/><stop offset="0.0387" stop-color="#e98a2e"/><stop offset="0.0507" stop-color="#e6cf3e"/><stop offset="0.0800" stop-color="#bfd44e"/><stop offset="0.1267" stop-color="#8fca68"/><stop offset="0.1867" stop-color="#5cb994"/><stop offset="0.2667" stop-color="#3f9fb6"/><stop offset="0.3733" stop-color="#3587c0"/><stop offset="0.5067" stop-color="#3175bc"/><stop offset="0.6667" stop-color="#2e68b6"/><stop offset="0.8667" stop-color="#2b5eb0"/><stop offset="1" stop-color="#2a56ab"/></linearGradient></defs>
<polygon points="528.50,170.10 587.90,225.36 647.30,170.10" fill="url(#hg30)"/>
<defs><linearGradient id="hg31" gradientUnits="userSpaceOnUse" x1="0" y1="170.10" x2="0" y2="245.10"><stop offset="0.0000" stop-color="#7a1518"/><stop offset="0.0173" stop-color="#9c1c1c"/><stop offset="0.0293" stop-color="#cf3a22"/><stop offset="0.0387" stop-color="#e98a2e"/><stop offset="0.0495" stop-color="#e6cf3e"/><stop offset="0.0759" stop-color="#bfd44e"/><stop offset="0.1179" stop-color="#8fca68"/><stop offset="0.1719" stop-color="#5cb994"/><stop offset="0.2439" stop-color="#3f9fb6"/><stop offset="0.3399" stop-color="#3587c0"/><stop offset="0.4599" stop-color="#3175bc"/><stop offset="0.6039" stop-color="#2e68b6"/><stop offset="0.7839" stop-color="#2b5eb0"/><stop offset="1" stop-color="#2850a7"/></linearGradient></defs>
<polygon points="647.30,170.10 695.15,214.61 743.00,170.10" fill="url(#hg31)"/>
</g></defs>
<g clip-path="url(#clipD0)"><use href="#hmD" filter="url(#hn1)"/></g>
<g clip-path="url(#clipD1)"><use href="#hmD" filter="url(#hn2)"/></g>
<g clip-path="url(#clipD2)"><use href="#hmD" filter="url(#hn3)"/></g>
<rect x="510.5" y="170.10" width="232.5" height="1.5" fill="#84181a" clip-path="url(#clipD)"/>
<g clip-path="url(#clipD)" fill="none" stroke="#ffffff" stroke-width="1.6" stroke-dasharray="4.4 2.4">
<polyline points="510.50,170.10 519.50,178.47 528.50,170.10"/>
<polyline points="528.50,170.10 587.90,225.36 647.30,170.10"/>
<polyline points="647.30,170.10 695.15,214.61 743.00,170.10"/>
</g>
<rect x="261.80" y="120.40" width="225.60" height="16.30" fill="#fff" stroke="#858585" stroke-width="1.1"/>
<line x1="285.30" y1="120.70" x2="285.30" y2="136.40" stroke="#56625a" stroke-width="1.4"/>
<line x1="299.20" y1="120.70" x2="299.20" y2="136.40" stroke="#56625a" stroke-width="1.4"/>
<line x1="440.80" y1="120.70" x2="440.80" y2="136.40" stroke="#56625a" stroke-width="1.4"/>
<line x1="442.50" y1="120.40" x2="442.50" y2="136.70" stroke="#f4bd9c" stroke-width="0.9"/>
<rect x="261.80" y="150.50" width="225.60" height="16.00" fill="#fff" stroke="#858585" stroke-width="1.1"/>
<line x1="284.90" y1="150.80" x2="284.90" y2="166.20" stroke="#56625a" stroke-width="1.4"/>
<line x1="299.70" y1="150.80" x2="299.70" y2="166.20" stroke="#56625a" stroke-width="1.4"/>
<line x1="325.40" y1="150.80" x2="325.40" y2="166.20" stroke="#56625a" stroke-width="1.4"/>
<line x1="440.80" y1="150.80" x2="440.80" y2="166.20" stroke="#56625a" stroke-width="1.4"/>
<line x1="442.50" y1="150.50" x2="442.50" y2="166.50" stroke="#f4bd9c" stroke-width="0.9"/>
<rect x="509.60" y="117.50" width="234.10" height="16.80" fill="#fff" stroke="#858585" stroke-width="1.1"/>
<line x1="527.60" y1="117.80" x2="527.60" y2="134.00" stroke="#56625a" stroke-width="1.4"/>
<line x1="550.10" y1="117.80" x2="550.10" y2="134.00" stroke="#56625a" stroke-width="1.4"/>
<line x1="623.80" y1="117.80" x2="623.80" y2="134.00" stroke="#56625a" stroke-width="1.4"/>
<line x1="631.20" y1="117.80" x2="631.20" y2="134.00" stroke="#56625a" stroke-width="1.4"/>
<line x1="641.40" y1="117.80" x2="641.40" y2="134.00" stroke="#56625a" stroke-width="1.4"/>
<line x1="661.20" y1="117.80" x2="661.20" y2="134.00" stroke="#56625a" stroke-width="1.4"/>
<line x1="701.60" y1="117.80" x2="701.60" y2="134.00" stroke="#56625a" stroke-width="1.4"/>
<line x1="721.70" y1="117.80" x2="721.70" y2="134.00" stroke="#56625a" stroke-width="1.4"/>
<line x1="647.40" y1="117.50" x2="647.40" y2="134.30" stroke="#f4bd9c" stroke-width="0.9"/>
<rect x="509.60" y="150.10" width="234.10" height="16.30" fill="#fff" stroke="#858585" stroke-width="1.1"/>
<line x1="528.50" y1="150.40" x2="528.50" y2="166.10" stroke="#3a3f3c" stroke-width="1.4"/>
<line x1="647.40" y1="150.10" x2="647.40" y2="166.40" stroke="#f4bd9c" stroke-width="0.9"/>
<text x="257.80" y="146.80" font-size="8.2" text-anchor="start" fill="#222" stroke="#222" stroke-width="0.3">CHL1</text>
<line x1="280.10" y1="144.50" x2="296.10" y2="144.50" stroke="#2b3694" stroke-width="1.0"/>
<line x1="281.90" y1="142.60" x2="281.90" y2="146.40" stroke="#2b3694" stroke-width="1.0"/>
<line x1="284.80" y1="142.60" x2="284.80" y2="146.40" stroke="#2b3694" stroke-width="1.0"/>
<line x1="292.40" y1="142.60" x2="292.40" y2="146.40" stroke="#2b3694" stroke-width="1.9"/>
<line x1="295.20" y1="142.60" x2="295.20" y2="146.40" stroke="#2b3694" stroke-width="1.8"/>
<text x="317.60" y="140.10" font-size="8.2" text-anchor="start" fill="#222" stroke="#222" stroke-width="0.3">CNTN6</text>
<line x1="326.40" y1="146.70" x2="346.80" y2="146.70" stroke="#2b3694" stroke-width="1.0"/>
<line x1="328.00" y1="144.80" x2="328.00" y2="148.60" stroke="#2b3694" stroke-width="2.4"/>
<line x1="334.70" y1="144.80" x2="334.70" y2="148.60" stroke="#2b3694" stroke-width="1.0"/>
<line x1="336.90" y1="144.80" x2="336.90" y2="148.60" stroke="#2b3694" stroke-width="1.0"/>
<line x1="341.00" y1="144.80" x2="341.00" y2="148.60" stroke="#2b3694" stroke-width="1.2"/>
<line x1="342.90" y1="144.80" x2="342.90" y2="148.60" stroke="#2b3694" stroke-width="1.4"/>
<line x1="345.20" y1="144.80" x2="345.20" y2="148.60" stroke="#2b3694" stroke-width="1.0"/>
<line x1="346.40" y1="144.80" x2="346.40" y2="148.60" stroke="#2b3694" stroke-width="1.0"/>
<text x="375.40" y="141.00" font-size="8.2" text-anchor="start" fill="#222" stroke="#222" stroke-width="0.3">CNTN4</text>
<line x1="381.80" y1="146.40" x2="429.60" y2="146.40" stroke="#2b3694" stroke-width="1.0"/>
<line x1="382.20" y1="144.10" x2="382.20" y2="148.70" stroke="#2b3694" stroke-width="1.2"/>
<line x1="387.30" y1="144.10" x2="387.30" y2="148.70" stroke="#2b3694" stroke-width="1.0"/>
<line x1="402.90" y1="144.10" x2="402.90" y2="148.70" stroke="#2b3694" stroke-width="1.0"/>
<line x1="409.20" y1="144.10" x2="409.20" y2="148.70" stroke="#2b3694" stroke-width="1.0"/>
<line x1="414.70" y1="144.10" x2="414.70" y2="148.70" stroke="#2b3694" stroke-width="2.0"/>
<line x1="423.30" y1="144.10" x2="423.30" y2="148.70" stroke="#2b3694" stroke-width="1.4"/>
<line x1="427.20" y1="144.10" x2="427.20" y2="148.70" stroke="#2b3694" stroke-width="2.0"/>
<line x1="429.30" y1="144.10" x2="429.30" y2="148.70" stroke="#2b3694" stroke-width="1.0"/>
<text x="437.80" y="146.50" font-size="8.2" text-anchor="start" fill="#222" stroke="#222" stroke-width="0.3">SUMF1</text>
<line x1="468.80" y1="145.90" x2="486.90" y2="145.90" stroke="#2b3694" stroke-width="1.0"/>
<line x1="474.80" y1="143.90" x2="474.80" y2="147.90" stroke="#2b3694" stroke-width="1.2"/>
<line x1="477.10" y1="143.90" x2="477.10" y2="147.90" stroke="#2b3694" stroke-width="1.6"/>
<line x1="479.80" y1="143.90" x2="479.80" y2="147.90" stroke="#2b3694" stroke-width="1.2"/>
<text x="510.90" y="140.00" font-size="8.2" text-anchor="start" fill="#222" stroke="#222" stroke-width="0.3">MIR548XHG</text>
<line x1="511.00" y1="143.80" x2="522.30" y2="143.80" stroke="#4a59c4" stroke-width="1.0"/>
<line x1="519.10" y1="141.70" x2="519.10" y2="145.90" stroke="#4a59c4" stroke-width="1.0"/>
<line x1="521.90" y1="141.70" x2="521.90" y2="145.90" stroke="#4a59c4" stroke-width="1.0"/>
<text x="570.10" y="146.50" font-size="8.2" text-anchor="start" fill="#222" stroke="#222" stroke-width="0.3">RPL37P4</text>
<line x1="565.90" y1="140.30" x2="565.90" y2="145.80" stroke="#5b6fd0" stroke-width="1.0"/>
<line x1="610.10" y1="137.90" x2="610.10" y2="146.20" stroke="#5b6fd0" stroke-width="1.1"/>
<text x="605.00" y="154.50" font-size="8.2" text-anchor="start" fill="#222" stroke="#222" stroke-width="0.3">FDPSP6</text>
<text x="676.30" y="145.90" font-size="8.2" text-anchor="start" fill="#222" stroke="#222" stroke-width="0.3">NCAM2</text>
<line x1="642.10" y1="142.20" x2="672.60" y2="142.20" stroke="#4a59c4" stroke-width="1.0"/>
<line x1="642.50" y1="140.00" x2="642.50" y2="144.40" stroke="#4a59c4" stroke-width="1.0"/>
<line x1="644.00" y1="140.00" x2="644.00" y2="144.40" stroke="#4a59c4" stroke-width="1.0"/>
<line x1="652.50" y1="140.00" x2="652.50" y2="144.40" stroke="#4a59c4" stroke-width="1.0"/>
<line x1="658.00" y1="140.00" x2="658.00" y2="144.40" stroke="#4a59c4" stroke-width="1.0"/>
<line x1="660.80" y1="140.00" x2="660.80" y2="144.40" stroke="#4a59c4" stroke-width="1.0"/>
<line x1="663.50" y1="140.00" x2="663.50" y2="144.40" stroke="#4a59c4" stroke-width="1.0"/>
<line x1="666.20" y1="140.00" x2="666.20" y2="144.40" stroke="#4a59c4" stroke-width="1.0"/>
<line x1="669.90" y1="140.00" x2="669.90" y2="144.40" stroke="#4a59c4" stroke-width="1.0"/>
<line x1="672.30" y1="140.00" x2="672.30" y2="144.40" stroke="#4a59c4" stroke-width="1.0"/>
<text x="717.50" y="144.90" font-size="8.2" text-anchor="start" fill="#222" stroke="#222" stroke-width="0.3">MAPK6P</text>
<line x1="714.40" y1="139.20" x2="714.40" y2="145.20" stroke="#5b6fd0" stroke-width="1.0"/>
<defs><linearGradient id="cb32" x1="0" y1="0" x2="0" y2="1"><stop offset="0.000" stop-color="#84182a"/><stop offset="0.150" stop-color="#b8283a"/><stop offset="0.420" stop-color="#dc3c4c"/><stop offset="0.540" stop-color="#ee7a3e"/><stop offset="0.640" stop-color="#e8de24"/><stop offset="0.740" stop-color="#74c84e"/><stop offset="0.840" stop-color="#22a2b0"/><stop offset="0.940" stop-color="#2348b0"/><stop offset="1.000" stop-color="#1c3090"/></linearGradient></defs>
<rect x="260.90" y="75.40" width="4.80" height="21.40" fill="url(#cb32)" stroke="none" stroke-width="1"/>
<line x1="259.50" y1="75.90" x2="260.90" y2="75.90" stroke="#444" stroke-width="0.7"/>
<line x1="259.50" y1="96.40" x2="260.90" y2="96.40" stroke="#444" stroke-width="0.7"/>
<text x="257.40" y="79.80" font-size="7.4" text-anchor="end" fill="#222" stroke="#222" stroke-width="0.3" textLength="6.4" lengthAdjust="spacingAndGlyphs">17</text>
<text x="255.80" y="97.40" font-size="7.4" text-anchor="end" fill="#222" stroke="#222" stroke-width="0.3" textLength="3.5" lengthAdjust="spacingAndGlyphs">0</text>
<text x="248.00" y="65.80" font-size="8.6" text-anchor="start" fill="#222" stroke="#222" stroke-width="0.3" textLength="26.3" lengthAdjust="spacingAndGlyphs">PANC1</text>
<defs><linearGradient id="cb33" x1="0" y1="0" x2="0" y2="1"><stop offset="0.000" stop-color="#1c3090"/><stop offset="0.060" stop-color="#2348b0"/><stop offset="0.160" stop-color="#22a2b0"/><stop offset="0.260" stop-color="#74c84e"/><stop offset="0.360" stop-color="#e8de24"/><stop offset="0.460" stop-color="#ee7a3e"/><stop offset="0.580" stop-color="#dc3c4c"/><stop offset="0.850" stop-color="#b8283a"/><stop offset="1.000" stop-color="#84182a"/></linearGradient></defs>
<rect x="260.90" y="190.60" width="4.80" height="21.40" fill="url(#cb33)" stroke="none" stroke-width="1"/>
<line x1="259.50" y1="191.10" x2="260.90" y2="191.10" stroke="#444" stroke-width="0.7"/>
<line x1="259.50" y1="211.60" x2="260.90" y2="211.60" stroke="#444" stroke-width="0.7"/>
<text x="254.50" y="195.00" font-size="7.4" text-anchor="end" fill="#222" stroke="#222" stroke-width="0.3" textLength="3.5" lengthAdjust="spacingAndGlyphs">0</text>
<text x="254.50" y="212.60" font-size="7.4" text-anchor="end" fill="#222" stroke="#222" stroke-width="0.3" textLength="6.4" lengthAdjust="spacingAndGlyphs">14</text>
<text x="245.60" y="224.90" font-size="8.6" text-anchor="start" fill="#222" stroke="#222" stroke-width="0.3" textLength="37.8" lengthAdjust="spacingAndGlyphs">HPDE6C7</text>
<defs><linearGradient id="cb34" x1="0" y1="0" x2="0" y2="1"><stop offset="0.000" stop-color="#84182a"/><stop offset="0.150" stop-color="#b8283a"/><stop offset="0.420" stop-color="#dc3c4c"/><stop offset="0.540" stop-color="#ee7a3e"/><stop offset="0.640" stop-color="#e8de24"/><stop offset="0.740" stop-color="#74c84e"/><stop offset="0.840" stop-color="#22a2b0"/><stop offset="0.940" stop-color="#2348b0"/><stop offset="1.000" stop-color="#1c3090"/></linearGradient></defs>
<rect x="508.60" y="71.40" width="4.80" height="21.40" fill="url(#cb34)" stroke="none" stroke-width="1"/>
<line x1="507.20" y1="71.90" x2="508.60" y2="71.90" stroke="#444" stroke-width="0.7"/>
<line x1="507.20" y1="92.40" x2="508.60" y2="92.40" stroke="#444" stroke-width="0.7"/>
<text x="501.60" y="75.80" font-size="7.4" text-anchor="end" fill="#222" stroke="#222" stroke-width="0.3" textLength="6.4" lengthAdjust="spacingAndGlyphs">14</text>
<text x="501.60" y="93.40" font-size="7.4" text-anchor="end" fill="#222" stroke="#222" stroke-width="0.3" textLength="3.5" lengthAdjust="spacingAndGlyphs">0</text>
<text x="493.30" y="63.80" font-size="8.6" text-anchor="start" fill="#222" stroke="#222" stroke-width="0.3" textLength="26.3" lengthAdjust="spacingAndGlyphs">PANC1</text>
<defs><linearGradient id="cb35" x1="0" y1="0" x2="0" y2="1"><stop offset="0.000" stop-color="#1c3090"/><stop offset="0.060" stop-color="#2348b0"/><stop offset="0.160" stop-color="#22a2b0"/><stop offset="0.260" stop-color="#74c84e"/><stop offset="0.360" stop-color="#e8de24"/><stop offset="0.460" stop-color="#ee7a3e"/><stop offset="0.580" stop-color="#dc3c4c"/><stop offset="0.850" stop-color="#b8283a"/><stop offset="1.000" stop-color="#84182a"/></linearGradient></defs>
<rect x="508.60" y="191.00" width="4.80" height="21.40" fill="url(#cb35)" stroke="none" stroke-width="1"/>
<line x1="507.20" y1="191.50" x2="508.60" y2="191.50" stroke="#444" stroke-width="0.7"/>
<line x1="507.20" y1="212.00" x2="508.60" y2="212.00" stroke="#444" stroke-width="0.7"/>
<text x="502.00" y="195.40" font-size="7.4" text-anchor="end" fill="#222" stroke="#222" stroke-width="0.3" textLength="3.5" lengthAdjust="spacingAndGlyphs">0</text>
<text x="502.00" y="213.00" font-size="7.4" text-anchor="end" fill="#222" stroke="#222" stroke-width="0.3" textLength="6.4" lengthAdjust="spacingAndGlyphs">19</text>
<text x="493.20" y="224.90" font-size="8.6" text-anchor="start" fill="#222" stroke="#222" stroke-width="0.3" textLength="37.8" lengthAdjust="spacingAndGlyphs">HPDE6C7</text>
<text x="6.40" y="268.30" font-size="16.5" text-anchor="start" fill="#111" stroke="#111" stroke-width="0.3">f</text>
<text x="88.90" y="275.80" font-size="8.25" text-anchor="middle" fill="#1a1a1a" stroke="#1a1a1a" stroke-width="0.3">BxPC3 Vs HPDE6C7</text>
<text x="183.50" y="275.80" font-size="8.25" text-anchor="middle" fill="#1a1a1a" stroke="#1a1a1a" stroke-width="0.3">PANC1 Vs HPDE6C7</text>
<line x1="64.70" y1="289.90" x2="64.70" y2="441.00" stroke="#151515" stroke-width="1.5"/>
<line x1="59.80" y1="440.30" x2="215.20" y2="440.30" stroke="#151515" stroke-width="1.5"/>
<line x1="60.00" y1="440.20" x2="64.70" y2="440.20" stroke="#151515" stroke-width="1.3"/>
<line x1="60.00" y1="421.50" x2="64.70" y2="421.50" stroke="#151515" stroke-width="1.3"/>
<line x1="60.00" y1="402.80" x2="64.70" y2="402.80" stroke="#151515" stroke-width="1.3"/>
<line x1="60.00" y1="384.10" x2="64.70" y2="384.10" stroke="#151515" stroke-width="1.3"/>
<line x1="60.00" y1="365.40" x2="64.70" y2="365.40" stroke="#151515" stroke-width="1.3"/>
<line x1="60.00" y1="346.70" x2="64.70" y2="346.70" stroke="#151515" stroke-width="1.3"/>
<line x1="60.00" y1="328.00" x2="64.70" y2="328.00" stroke="#151515" stroke-width="1.3"/>
<line x1="60.00" y1="309.30" x2="64.70" y2="309.30" stroke="#151515" stroke-width="1.3"/>
<line x1="60.00" y1="290.60" x2="64.70" y2="290.60" stroke="#151515" stroke-width="1.3"/>
<text x="52.60" y="293.50" font-size="8.1" text-anchor="end" fill="#1a1a1a" stroke="#1a1a1a" stroke-width="0.3">8</text>
<text x="52.60" y="330.90" font-size="8.1" text-anchor="end" fill="#1a1a1a" stroke="#1a1a1a" stroke-width="0.3">4</text>
<text x="54.40" y="368.30" font-size="8.1" text-anchor="end" fill="#1a1a1a" stroke="#1a1a1a" stroke-width="0.3">0</text>
<text x="52.60" y="405.70" font-size="8.1" text-anchor="end" fill="#1a1a1a" stroke="#1a1a1a" stroke-width="0.3">-4</text>
<text x="52.60" y="443.10" font-size="8.1" text-anchor="end" fill="#1a1a1a" stroke="#1a1a1a" stroke-width="0.3">-8</text>
<text x="40.60" y="365.00" font-size="8.25" text-anchor="middle" fill="#1a1a1a" stroke="#1a1a1a" stroke-width="0.3" transform="rotate(-90 40.60 365.00)">Gene expression (log2FC)</text>
<line x1="83.40" y1="355.00" x2="83.40" y2="325.50" stroke="#3b38b0" stroke-width="1.5" stroke-dasharray="7.6 4.2"/>
<line x1="83.40" y1="374.40" x2="83.40" y2="404.30" stroke="#3b38b0" stroke-width="1.5" stroke-dasharray="7.6 4.2"/>
<line x1="78.10" y1="325.50" x2="88.70" y2="325.50" stroke="#151515" stroke-width="1.6"/>
<line x1="78.10" y1="404.30" x2="88.70" y2="404.30" stroke="#151515" stroke-width="1.6"/>
<rect x="73.70" y="355.00" width="19.40" height="19.40" fill="#F26F21" stroke="#151515" stroke-width="1.6"/>
<line x1="73.70" y1="365.40" x2="93.10" y2="365.40" stroke="#151515" stroke-width="1.6"/>
<line x1="120.90" y1="347.00" x2="120.90" y2="307.80" stroke="#3b38b0" stroke-width="1.5" stroke-dasharray="7.6 4.2"/>
<line x1="120.90" y1="373.10" x2="120.90" y2="412.00" stroke="#3b38b0" stroke-width="1.5" stroke-dasharray="7.6 4.2"/>
<line x1="115.60" y1="307.80" x2="126.20" y2="307.80" stroke="#151515" stroke-width="1.6"/>
<line x1="115.60" y1="412.00" x2="126.20" y2="412.00" stroke="#151515" stroke-width="1.6"/>
<rect x="111.20" y="347.00" width="19.40" height="26.10" fill="#EFE6C9" stroke="#151515" stroke-width="1.6"/>
<line x1="111.20" y1="361.20" x2="130.60" y2="361.20" stroke="#151515" stroke-width="1.6"/>
<line x1="158.40" y1="357.60" x2="158.40" y2="330.00" stroke="#3b38b0" stroke-width="1.5" stroke-dasharray="7.6 4.2"/>
<line x1="158.40" y1="375.40" x2="158.40" y2="402.50" stroke="#3b38b0" stroke-width="1.5" stroke-dasharray="7.6 4.2"/>
<line x1="153.10" y1="330.00" x2="163.70" y2="330.00" stroke="#151515" stroke-width="1.6"/>
<line x1="153.10" y1="402.50" x2="163.70" y2="402.50" stroke="#151515" stroke-width="1.6"/>
<rect x="148.70" y="357.60" width="19.40" height="17.80" fill="#FBBF1F" stroke="#151515" stroke-width="1.6"/>
<line x1="148.70" y1="366.50" x2="168.10" y2="366.50" stroke="#151515" stroke-width="1.6"/>
<line x1="195.90" y1="349.50" x2="195.90" y2="315.40" stroke="#3b38b0" stroke-width="1.5" stroke-dasharray="7.6 4.2"/>
<line x1="195.90" y1="372.80" x2="195.90" y2="406.80" stroke="#3b38b0" stroke-width="1.5" stroke-dasharray="7.6 4.2"/>
<line x1="190.60" y1="315.40" x2="201.20" y2="315.40" stroke="#151515" stroke-width="1.6"/>
<line x1="190.60" y1="406.80" x2="201.20" y2="406.80" stroke="#151515" stroke-width="1.6"/>
<rect x="186.20" y="349.50" width="19.40" height="23.30" fill="#DDA3CB" stroke="#151515" stroke-width="1.6"/>
<line x1="186.20" y1="361.70" x2="205.60" y2="361.70" stroke="#151515" stroke-width="1.6"/>
<line x1="83.40" y1="440.30" x2="83.40" y2="445.00" stroke="#151515" stroke-width="1.3"/>
<line x1="120.90" y1="440.30" x2="120.90" y2="445.00" stroke="#151515" stroke-width="1.3"/>
<line x1="158.40" y1="440.30" x2="158.40" y2="445.00" stroke="#151515" stroke-width="1.3"/>
<line x1="195.90" y1="440.30" x2="195.90" y2="445.00" stroke="#151515" stroke-width="1.3"/>
<text x="100.90" y="293.40" font-size="8.2" text-anchor="middle" fill="#1a1a1a" stroke="#1a1a1a" stroke-width="0.3">p = 7.77e-08</text>
<line x1="80.80" y1="299.20" x2="121.20" y2="299.20" stroke="#80756f" stroke-width="1.2"/>
<text x="177.90" y="293.30" font-size="8.2" text-anchor="middle" fill="#1a1a1a" stroke="#1a1a1a" stroke-width="0.3">p = 6.46e-22</text>
<line x1="157.00" y1="296.90" x2="197.60" y2="296.90" stroke="#80756f" stroke-width="1.2"/>
<text x="84.10" y="454.90" font-size="8.2" text-anchor="end" fill="#1a1a1a" stroke="#1a1a1a" stroke-width="0.3" transform="rotate(-45 84.10 454.90)">Stable CDs</text>
<text x="125.90" y="455.30" font-size="8.2" text-anchor="end" fill="#1a1a1a" stroke="#1a1a1a" stroke-width="0.3" transform="rotate(-45 125.90 455.30)">Specific CDs</text>
<text x="160.00" y="458.10" font-size="8.2" text-anchor="end" fill="#1a1a1a" stroke="#1a1a1a" stroke-width="0.3" transform="rotate(-45 160.00 458.10)">Stable CDs</text>
<text x="201.80" y="458.80" font-size="8.2" text-anchor="end" fill="#1a1a1a" stroke="#1a1a1a" stroke-width="0.3" transform="rotate(-45 201.80 458.80)">Specific CDs</text>
<text x="243.60" y="268.00" font-size="16.5" text-anchor="start" fill="#111" stroke="#111" stroke-width="0.3">g</text>
<text x="359.90" y="280.30" font-size="8.25" text-anchor="middle" fill="#1a1a1a" stroke="#1a1a1a" stroke-width="0.3">PANC1 Specific CDs</text>
<rect x="266.00" y="287.90" width="192.32" height="7.10" fill="#F8C3D0" stroke="none" stroke-width="1"/>
<text x="275.40" y="294.40" font-size="8.5" text-anchor="start" fill="#1c1c1c" stroke="#1c1c1c" stroke-width="0.3">regulation of cell differentiation</text>
<rect x="266.00" y="298.50" width="178.90" height="7.10" fill="#F8C3D0" stroke="none" stroke-width="1"/>
<text x="275.40" y="304.40" font-size="8.5" text-anchor="start" fill="#1c1c1c" stroke="#1c1c1c" stroke-width="0.3">regulation of multicellular organismal process</text>
<rect x="266.00" y="309.00" width="169.95" height="7.10" fill="#F8C3D0" stroke="none" stroke-width="1"/>
<text x="275.40" y="314.70" font-size="8.5" text-anchor="start" fill="#1c1c1c" stroke="#1c1c1c" stroke-width="0.3">regulation of developmental process</text>
<rect x="266.00" y="319.70" width="168.67" height="7.10" fill="#F8C3D0" stroke="none" stroke-width="1"/>
<text x="275.40" y="326.20" font-size="8.5" text-anchor="start" fill="#1c1c1c" stroke="#1c1c1c" stroke-width="0.3">regulation of cellular component movement</text>
<rect x="266.00" y="330.30" width="165.15" height="7.10" fill="#F8C3D0" stroke="none" stroke-width="1"/>
<text x="275.40" y="336.20" font-size="8.5" text-anchor="start" fill="#1c1c1c" stroke="#1c1c1c" stroke-width="0.3">regulation of multicellular organismal development</text>
<rect x="266.00" y="341.00" width="161.64" height="7.10" fill="#F8C3D0" stroke="none" stroke-width="1"/>
<text x="275.40" y="346.50" font-size="8.5" text-anchor="start" fill="#1c1c1c" stroke="#1c1c1c" stroke-width="0.3">regulation of neuron differentiation</text>
<rect x="266.00" y="351.90" width="160.36" height="7.10" fill="#F8C3D0" stroke="none" stroke-width="1"/>
<text x="275.40" y="359.60" font-size="8.5" text-anchor="start" fill="#1c1c1c" stroke="#1c1c1c" stroke-width="0.3">regulation of cell migration</text>
<rect x="266.00" y="362.70" width="150.77" height="7.10" fill="#F8C3D0" stroke="none" stroke-width="1"/>
<text x="275.40" y="370.00" font-size="8.5" text-anchor="start" fill="#1c1c1c" stroke="#1c1c1c" stroke-width="0.3">glycosaminoglycan biosynthetic process</text>
<rect x="266.00" y="373.60" width="149.81" height="7.10" fill="#F8C3D0" stroke="none" stroke-width="1"/>
<text x="275.40" y="380.70" font-size="8.5" text-anchor="start" fill="#1c1c1c" stroke="#1c1c1c" stroke-width="0.3">aminoglycan biosynthetic process</text>
<rect x="266.00" y="384.20" width="144.70" height="7.10" fill="#F8C3D0" stroke="none" stroke-width="1"/>
<text x="275.40" y="391.00" font-size="8.5" text-anchor="start" fill="#1c1c1c" stroke="#1c1c1c" stroke-width="0.3">regulation of cell motility</text>
<rect x="266.00" y="395.00" width="138.31" height="7.10" fill="#F8C3D0" stroke="none" stroke-width="1"/>
<text x="275.40" y="401.50" font-size="8.5" text-anchor="start" fill="#1c1c1c" stroke="#1c1c1c" stroke-width="0.3">anatomical structure development</text>
<rect x="266.00" y="405.70" width="137.99" height="7.10" fill="#F8C3D0" stroke="none" stroke-width="1"/>
<text x="275.40" y="412.60" font-size="8.5" text-anchor="start" fill="#1c1c1c" stroke="#1c1c1c" stroke-width="0.3">system development</text>
<rect x="266.00" y="416.40" width="135.11" height="7.10" fill="#F8C3D0" stroke="none" stroke-width="1"/>
<text x="275.40" y="422.90" font-size="8.5" text-anchor="start" fill="#1c1c1c" stroke="#1c1c1c" stroke-width="0.3">signal transduction</text>
<rect x="266.00" y="427.00" width="132.55" height="7.10" fill="#F8C3D0" stroke="none" stroke-width="1"/>
<text x="275.40" y="433.10" font-size="8.5" text-anchor="start" fill="#1c1c1c" stroke="#1c1c1c" stroke-width="0.3">cell adhesion</text>
<rect x="266.00" y="437.40" width="132.23" height="7.10" fill="#F8C3D0" stroke="none" stroke-width="1"/>
<text x="275.40" y="442.90" font-size="8.5" text-anchor="start" fill="#1c1c1c" stroke="#1c1c1c" stroke-width="0.3">regulation of neurogenesis</text>
<line x1="265.60" y1="269.80" x2="265.60" y2="462.00" stroke="#444" stroke-width="1.0"/>
<line x1="265.10" y1="461.60" x2="490.00" y2="461.60" stroke="#444" stroke-width="1.0"/>
<line x1="265.60" y1="461.60" x2="265.60" y2="464.00" stroke="#444" stroke-width="1.0"/>
<text x="267.10" y="477.00" font-size="8.2" text-anchor="middle" fill="#1a1a1a" stroke="#1a1a1a" stroke-width="0.3">0</text>
<line x1="297.56" y1="461.60" x2="297.56" y2="464.00" stroke="#444" stroke-width="1.0"/>
<text x="299.06" y="477.00" font-size="8.2" text-anchor="middle" fill="#1a1a1a" stroke="#1a1a1a" stroke-width="0.3">1</text>
<line x1="329.52" y1="461.60" x2="329.52" y2="464.00" stroke="#444" stroke-width="1.0"/>
<text x="331.02" y="477.00" font-size="8.2" text-anchor="middle" fill="#1a1a1a" stroke="#1a1a1a" stroke-width="0.3">2</text>
<line x1="361.48" y1="461.60" x2="361.48" y2="464.00" stroke="#444" stroke-width="1.0"/>
<text x="362.98" y="477.00" font-size="8.2" text-anchor="middle" fill="#1a1a1a" stroke="#1a1a1a" stroke-width="0.3">3</text>
<line x1="393.44" y1="461.60" x2="393.44" y2="464.00" stroke="#444" stroke-width="1.0"/>
<text x="394.94" y="477.00" font-size="8.2" text-anchor="middle" fill="#1a1a1a" stroke="#1a1a1a" stroke-width="0.3">4</text>
<line x1="425.40" y1="461.60" x2="425.40" y2="464.00" stroke="#444" stroke-width="1.0"/>
<text x="426.90" y="477.00" font-size="8.2" text-anchor="middle" fill="#1a1a1a" stroke="#1a1a1a" stroke-width="0.3">5</text>
<line x1="457.36" y1="461.60" x2="457.36" y2="464.00" stroke="#444" stroke-width="1.0"/>
<text x="458.86" y="477.00" font-size="8.2" text-anchor="middle" fill="#1a1a1a" stroke="#1a1a1a" stroke-width="0.3">6</text>
<line x1="489.32" y1="461.60" x2="489.32" y2="464.00" stroke="#444" stroke-width="1.0"/>
<text x="490.82" y="477.00" font-size="8.2" text-anchor="middle" fill="#1a1a1a" stroke="#1a1a1a" stroke-width="0.3">7</text>
<text x="380.30" y="492.00" font-size="8.25" text-anchor="middle" fill="#1a1a1a" stroke="#1a1a1a" stroke-width="0.3">- log 10 ( pval )</text>
<text x="259.40" y="373.80" font-size="8.25" text-anchor="middle" fill="#1a1a1a" stroke="#1a1a1a" stroke-width="0.3" transform="rotate(-90 259.40 373.80)">Go iterm</text>
<text x="503.10" y="268.30" font-size="16.5" text-anchor="start" fill="#111" stroke="#111" stroke-width="0.3">h</text>
<text x="568.30" y="274.30" font-size="8.25" text-anchor="middle" fill="#1a1a1a" stroke="#1a1a1a" stroke-width="0.3">BxPC3 Vs HPDE6C7</text>
<text x="670.40" y="274.30" font-size="8.25" text-anchor="middle" fill="#1a1a1a" stroke="#1a1a1a" stroke-width="0.3">PANC1 Vs HPDE6C7</text>
<text x="586.40" y="282.70" font-size="8.2" text-anchor="middle" fill="#1a1a1a" stroke="#1a1a1a" stroke-width="0.3">p = 8.14e-36</text>
<line x1="573.70" y1="289.50" x2="613.60" y2="289.50" stroke="#80756f" stroke-width="1.2"/>
<text x="672.50" y="282.70" font-size="8.2" text-anchor="middle" fill="#1a1a1a" stroke="#1a1a1a" stroke-width="0.3">p = 3.20e-12</text>
<line x1="647.00" y1="286.80" x2="700.40" y2="286.80" stroke="#80756f" stroke-width="1.2"/>
<rect x="563.80" y="303.20" width="24.10" height="134.10" fill="#ECE6C8" stroke="#151515" stroke-width="1.5"/>
<rect x="599.30" y="362.80" width="24.10" height="74.50" fill="#F58220" stroke="#151515" stroke-width="1.5"/>
<rect x="634.80" y="288.30" width="24.10" height="149.00" fill="#9C5BA5" stroke="#151515" stroke-width="1.5"/>
<rect x="670.60" y="362.80" width="24.10" height="74.50" fill="#F5B97E" stroke="#151515" stroke-width="1.5"/>
<line x1="558.60" y1="287.80" x2="558.60" y2="438.00" stroke="#151515" stroke-width="1.5"/>
<line x1="553.70" y1="437.30" x2="700.80" y2="437.30" stroke="#151515" stroke-width="1.5"/>
<line x1="553.70" y1="437.30" x2="558.60" y2="437.30" stroke="#151515" stroke-width="1.3"/>
<text x="546.60" y="440.20" font-size="8.2" text-anchor="end" fill="#1a1a1a" stroke="#1a1a1a" stroke-width="0.3">0.30</text>
<line x1="553.70" y1="407.50" x2="558.60" y2="407.50" stroke="#151515" stroke-width="1.3"/>
<text x="546.60" y="410.40" font-size="8.2" text-anchor="end" fill="#1a1a1a" stroke="#1a1a1a" stroke-width="0.3">0.32</text>
<line x1="553.70" y1="377.70" x2="558.60" y2="377.70" stroke="#151515" stroke-width="1.3"/>
<text x="546.60" y="380.60" font-size="8.2" text-anchor="end" fill="#1a1a1a" stroke="#1a1a1a" stroke-width="0.3">0.34</text>
<line x1="553.70" y1="347.90" x2="558.60" y2="347.90" stroke="#151515" stroke-width="1.3"/>
<text x="546.60" y="350.80" font-size="8.2" text-anchor="end" fill="#1a1a1a" stroke="#1a1a1a" stroke-width="0.3">0.36</text>
<line x1="553.70" y1="318.10" x2="558.60" y2="318.10" stroke="#151515" stroke-width="1.3"/>
<text x="546.60" y="321.00" font-size="8.2" text-anchor="end" fill="#1a1a1a" stroke="#1a1a1a" stroke-width="0.3">0.38</text>
<line x1="553.70" y1="288.30" x2="558.60" y2="288.30" stroke="#151515" stroke-width="1.3"/>
<text x="546.60" y="291.20" font-size="8.2" text-anchor="end" fill="#1a1a1a" stroke="#1a1a1a" stroke-width="0.3">0.40</text>
<line x1="576.00" y1="437.30" x2="576.00" y2="442.30" stroke="#151515" stroke-width="1.3"/>
<line x1="611.50" y1="437.30" x2="611.50" y2="442.30" stroke="#151515" stroke-width="1.3"/>
<line x1="647.00" y1="437.30" x2="647.00" y2="442.30" stroke="#151515" stroke-width="1.3"/>
<line x1="682.50" y1="437.30" x2="682.50" y2="442.30" stroke="#151515" stroke-width="1.3"/>
<text x="524.00" y="373.80" font-size="8.25" text-anchor="middle" fill="#1a1a1a" stroke="#1a1a1a" stroke-width="0.3" transform="rotate(-90 524.00 373.80)">Proportion of specific loops</text>
<text x="581.00" y="455.60" font-size="8.2" text-anchor="end" fill="#1a1a1a" stroke="#1a1a1a" stroke-width="0.3" transform="rotate(-45 581.00 455.60)">Specific CDs</text>
<text x="617.00" y="455.60" font-size="8.2" text-anchor="end" fill="#1a1a1a" stroke="#1a1a1a" stroke-width="0.3" transform="rotate(-45 617.00 455.60)">Stable CDs</text>
<text x="652.20" y="455.60" font-size="8.2" text-anchor="end" fill="#1a1a1a" stroke="#1a1a1a" stroke-width="0.3" transform="rotate(-45 652.20 455.60)">Specific CDs</text>
<text x="688.80" y="455.60" font-size="8.2" text-anchor="end" fill="#1a1a1a" stroke="#1a1a1a" stroke-width="0.3" transform="rotate(-45 688.80 455.60)">Stable CDs</text>
<text x="6.20" y="507.80" font-size="16.5" text-anchor="start" fill="#111" stroke="#111" stroke-width="0.3">i</text>
<rect x="64.20" y="516.80" width="16.60" height="8.40" fill="#F26522" stroke="#151515" stroke-width="1.5"/>
<text x="88.60" y="523.80" font-size="8.25" text-anchor="start" fill="#1a1a1a" stroke="#1a1a1a" stroke-width="0.3">Specific loop</text>
<rect x="64.20" y="533.55" width="16.60" height="8.40" fill="#E9A8D0" stroke="#151515" stroke-width="1.5"/>
<text x="87.50" y="540.55" font-size="8.25" text-anchor="start" fill="#1a1a1a" stroke="#1a1a1a" stroke-width="0.3">Common loop</text>
<rect x="64.20" y="550.30" width="16.60" height="8.40" fill="#ECE6C8" stroke="#151515" stroke-width="1.5"/>
<text x="87.50" y="557.30" font-size="8.25" text-anchor="start" fill="#1a1a1a" stroke="#1a1a1a" stroke-width="0.3">Random of non-loop</text>
<rect x="76.60" y="605.11" width="13.80" height="118.79" fill="#F26522" stroke="#151515" stroke-width="1.5"/>
<rect x="96.70" y="614.25" width="13.80" height="109.65" fill="#E9A8D0" stroke="#151515" stroke-width="1.5"/>
<rect x="116.60" y="659.94" width="13.80" height="63.96" fill="#ECE6C8" stroke="#151515" stroke-width="1.5"/>
<rect x="150.40" y="656.28" width="13.80" height="67.62" fill="#F26522" stroke="#151515" stroke-width="1.5"/>
<rect x="170.50" y="652.63" width="13.80" height="71.27" fill="#E9A8D0" stroke="#151515" stroke-width="1.5"/>
<rect x="190.40" y="685.52" width="13.80" height="38.38" fill="#ECE6C8" stroke="#151515" stroke-width="1.5"/>
<line x1="67.20" y1="577.00" x2="67.20" y2="724.60" stroke="#151515" stroke-width="1.5"/>
<line x1="62.30" y1="723.90" x2="214.50" y2="723.90" stroke="#151515" stroke-width="1.5"/>
<line x1="62.30" y1="723.90" x2="67.20" y2="723.90" stroke="#151515" stroke-width="1.3"/>
<text x="60.60" y="726.80" font-size="8.2" text-anchor="end" fill="#1a1a1a" stroke="#1a1a1a" stroke-width="0.3">0.0</text>
<line x1="62.30" y1="687.35" x2="67.20" y2="687.35" stroke="#151515" stroke-width="1.3"/>
<text x="60.60" y="690.25" font-size="8.2" text-anchor="end" fill="#1a1a1a" stroke="#1a1a1a" stroke-width="0.3">0.2</text>
<line x1="62.30" y1="650.80" x2="67.20" y2="650.80" stroke="#151515" stroke-width="1.3"/>
<text x="60.60" y="653.70" font-size="8.2" text-anchor="end" fill="#1a1a1a" stroke="#1a1a1a" stroke-width="0.3">0.4</text>
<line x1="62.30" y1="614.25" x2="67.20" y2="614.25" stroke="#151515" stroke-width="1.3"/>
<text x="60.60" y="617.15" font-size="8.2" text-anchor="end" fill="#1a1a1a" stroke="#1a1a1a" stroke-width="0.3">0.6</text>
<line x1="62.30" y1="577.70" x2="67.20" y2="577.70" stroke="#151515" stroke-width="1.3"/>
<text x="60.60" y="580.60" font-size="8.2" text-anchor="end" fill="#1a1a1a" stroke="#1a1a1a" stroke-width="0.3">0.8</text>
<line x1="103.70" y1="723.90" x2="103.70" y2="728.40" stroke="#151515" stroke-width="1.3"/>
<line x1="177.00" y1="723.90" x2="177.00" y2="728.40" stroke="#151515" stroke-width="1.3"/>
<text x="101.40" y="741.30" font-size="8.1" text-anchor="middle" fill="#1a1a1a" stroke="#1a1a1a" stroke-width="0.3">BxPC3</text>
<text x="175.70" y="741.30" font-size="8.1" text-anchor="middle" fill="#1a1a1a" stroke="#1a1a1a" stroke-width="0.3">PANC1</text>
<text x="42.00" y="649.60" font-size="8.25" text-anchor="middle" fill="#1a1a1a" stroke="#1a1a1a" stroke-width="0.3" transform="rotate(-90 42.00 649.60)">Proportion of H3K27ac peak</text>
<text x="99.80" y="579.80" font-size="8.2" text-anchor="middle" fill="#1a1a1a" stroke="#1a1a1a" stroke-width="0.3">p &lt; 1.00e-50</text>
<line x1="85.40" y1="583.40" x2="123.10" y2="583.40" stroke="#80756f" stroke-width="1.2"/>
<text x="116.40" y="600.20" font-size="8.2" text-anchor="middle" fill="#1a1a1a" stroke="#1a1a1a" stroke-width="0.3">p &lt; 1.00e-50</text>
<line x1="105.80" y1="605.60" x2="128.90" y2="605.60" stroke="#80756f" stroke-width="1.2"/>
<text x="174.40" y="611.30" font-size="8.2" text-anchor="middle" fill="#1a1a1a" stroke="#1a1a1a" stroke-width="0.3">p = 2.38e-41</text>
<line x1="156.20" y1="617.80" x2="203.40" y2="617.80" stroke="#80756f" stroke-width="1.2"/>
<text x="185.90" y="638.80" font-size="8.2" text-anchor="middle" fill="#1a1a1a" stroke="#1a1a1a" stroke-width="0.3">p &lt; 1.13e-50</text>
<line x1="180.00" y1="644.70" x2="203.40" y2="644.70" stroke="#80756f" stroke-width="1.2"/>
<line x1="75.60" y1="570.20" x2="75.60" y2="575.80" stroke="#f6c9a0" stroke-width="0.6"/>
<text x="255.60" y="507.00" font-size="16.5" text-anchor="start" fill="#111" stroke="#111" stroke-width="0.3">j</text>
<text x="383.40" y="516.80" font-size="8.25" text-anchor="middle" fill="#1a1a1a" stroke="#1a1a1a" stroke-width="0.3">BxPC3 Vs HPDE6C7</text>
<line x1="301.60" y1="558.00" x2="301.60" y2="699.90" stroke="#3a3a3a" stroke-width="1.0"/>
<line x1="301.10" y1="699.40" x2="471.80" y2="699.40" stroke="#3a3a3a" stroke-width="1.0"/>
<line x1="298.80" y1="699.75" x2="301.60" y2="699.75" stroke="#3a3a3a" stroke-width="1.0"/>
<text x="291.00" y="702.65" font-size="8.2" text-anchor="end" fill="#1a1a1a" stroke="#1a1a1a" stroke-width="0.3">-3</text>
<line x1="298.80" y1="679.60" x2="301.60" y2="679.60" stroke="#3a3a3a" stroke-width="1.0"/>
<text x="291.00" y="682.50" font-size="8.2" text-anchor="end" fill="#1a1a1a" stroke="#1a1a1a" stroke-width="0.3">-2</text>
<line x1="298.80" y1="659.45" x2="301.60" y2="659.45" stroke="#3a3a3a" stroke-width="1.0"/>
<text x="291.00" y="662.35" font-size="8.2" text-anchor="end" fill="#1a1a1a" stroke="#1a1a1a" stroke-width="0.3">-1</text>
<line x1="298.80" y1="639.30" x2="301.60" y2="639.30" stroke="#3a3a3a" stroke-width="1.0"/>
<text x="291.00" y="642.20" font-size="8.2" text-anchor="end" fill="#1a1a1a" stroke="#1a1a1a" stroke-width="0.3">0</text>
<line x1="298.80" y1="619.15" x2="301.60" y2="619.15" stroke="#3a3a3a" stroke-width="1.0"/>
<text x="291.00" y="622.05" font-size="8.2" text-anchor="end" fill="#1a1a1a" stroke="#1a1a1a" stroke-width="0.3">1</text>
<line x1="298.80" y1="599.00" x2="301.60" y2="599.00" stroke="#3a3a3a" stroke-width="1.0"/>
<text x="291.00" y="601.90" font-size="8.2" text-anchor="end" fill="#1a1a1a" stroke="#1a1a1a" stroke-width="0.3">2</text>
<line x1="298.80" y1="578.85" x2="301.60" y2="578.85" stroke="#3a3a3a" stroke-width="1.0"/>
<text x="291.00" y="581.75" font-size="8.2" text-anchor="end" fill="#1a1a1a" stroke="#1a1a1a" stroke-width="0.3">3</text>
<line x1="298.80" y1="558.70" x2="301.60" y2="558.70" stroke="#3a3a3a" stroke-width="1.0"/>
<text x="291.00" y="561.60" font-size="8.2" text-anchor="end" fill="#1a1a1a" stroke="#1a1a1a" stroke-width="0.3">4</text>
<text x="276.60" y="629.20" font-size="8.25" text-anchor="middle" fill="#1a1a1a" stroke="#1a1a1a" stroke-width="0.3" transform="rotate(-90 276.60 629.20)">Gene expression (log2FC)</text>
<line x1="322.90" y1="618.90" x2="322.90" y2="575.40" stroke="#7c8ed9" stroke-width="1.2" stroke-dasharray="5.8 5.5"/>
<line x1="322.90" y1="648.40" x2="322.90" y2="692.40" stroke="#7c8ed9" stroke-width="1.2" stroke-dasharray="5.8 5.5"/>
<line x1="315.30" y1="575.40" x2="330.50" y2="575.40" stroke="#2a2a2a" stroke-width="1.1"/>
<line x1="315.30" y1="692.40" x2="330.50" y2="692.40" stroke="#2a2a2a" stroke-width="1.1"/>
<rect x="308.10" y="618.90" width="29.60" height="29.50" fill="#F37021" stroke="#2a2a2a" stroke-width="1.1"/>
<line x1="308.10" y1="636.30" x2="337.70" y2="636.30" stroke="#2a2a2a" stroke-width="1.3"/>
<line x1="365.60" y1="618.90" x2="365.60" y2="574.10" stroke="#7c8ed9" stroke-width="1.2" stroke-dasharray="5.8 5.5"/>
<line x1="365.60" y1="648.80" x2="365.60" y2="693.30" stroke="#7c8ed9" stroke-width="1.2" stroke-dasharray="5.8 5.5"/>
<line x1="358.00" y1="574.10" x2="373.20" y2="574.10" stroke="#2a2a2a" stroke-width="1.1"/>
<line x1="358.00" y1="693.30" x2="373.20" y2="693.30" stroke="#2a2a2a" stroke-width="1.1"/>
<rect x="350.80" y="618.90" width="29.60" height="29.90" fill="#FCC02A" stroke="#2a2a2a" stroke-width="1.1"/>
<line x1="350.80" y1="636.30" x2="380.40" y2="636.30" stroke="#2a2a2a" stroke-width="1.3"/>
<line x1="407.80" y1="624.90" x2="407.80" y2="597.60" stroke="#7c8ed9" stroke-width="1.2" stroke-dasharray="5.8 5.5"/>
<line x1="407.80" y1="644.80" x2="407.80" y2="672.30" stroke="#7c8ed9" stroke-width="1.2" stroke-dasharray="5.8 5.5"/>
<line x1="400.20" y1="597.60" x2="415.40" y2="597.60" stroke="#2a2a2a" stroke-width="1.1"/>
<line x1="400.20" y1="672.30" x2="415.40" y2="672.30" stroke="#2a2a2a" stroke-width="1.1"/>
<rect x="393.00" y="624.90" width="29.60" height="19.90" fill="#EFE6C9" stroke="#2a2a2a" stroke-width="1.1"/>
<line x1="393.00" y1="638.30" x2="422.60" y2="638.30" stroke="#2a2a2a" stroke-width="1.3"/>
<line x1="450.50" y1="625.40" x2="450.50" y2="588.00" stroke="#7c8ed9" stroke-width="1.2" stroke-dasharray="5.8 5.5"/>
<line x1="450.50" y1="650.50" x2="450.50" y2="687.20" stroke="#7c8ed9" stroke-width="1.2" stroke-dasharray="5.8 5.5"/>
<line x1="442.90" y1="588.00" x2="458.10" y2="588.00" stroke="#2a2a2a" stroke-width="1.1"/>
<line x1="442.90" y1="687.20" x2="458.10" y2="687.20" stroke="#2a2a2a" stroke-width="1.1"/>
<rect x="435.70" y="625.40" width="29.60" height="25.10" fill="#D6A0C4" stroke="#2a2a2a" stroke-width="1.1"/>
<line x1="435.70" y1="639.30" x2="465.30" y2="639.30" stroke="#2a2a2a" stroke-width="1.3"/>
<line x1="322.90" y1="699.40" x2="322.90" y2="703.00" stroke="#3a3a3a" stroke-width="1.0"/>
<line x1="365.60" y1="699.40" x2="365.60" y2="703.00" stroke="#3a3a3a" stroke-width="1.0"/>
<line x1="407.80" y1="699.40" x2="407.80" y2="703.00" stroke="#3a3a3a" stroke-width="1.0"/>
<line x1="450.50" y1="699.40" x2="450.50" y2="703.00" stroke="#3a3a3a" stroke-width="1.0"/>
<text x="388.60" y="529.90" font-size="8.2" text-anchor="middle" fill="#1a1a1a" stroke="#1a1a1a" stroke-width="0.3">p = 2.81e-24</text>
<line x1="325.00" y1="535.70" x2="448.20" y2="535.70" stroke="#7a716b" stroke-width="1.2"/>
<text x="406.40" y="545.90" font-size="8.2" text-anchor="middle" fill="#1a1a1a" stroke="#1a1a1a" stroke-width="0.3">p = 1.19e-23</text>
<line x1="365.30" y1="550.50" x2="448.40" y2="550.50" stroke="#7a716b" stroke-width="1.2"/>
<text x="343.70" y="562.70" font-size="8.2" text-anchor="middle" fill="#1a1a1a" stroke="#1a1a1a" stroke-width="0.3">p = 4.79e-01</text>
<line x1="325.40" y1="567.40" x2="363.30" y2="567.40" stroke="#7a716b" stroke-width="1.2"/>
<text x="427.90" y="576.30" font-size="8.2" text-anchor="middle" fill="#1a1a1a" stroke="#1a1a1a" stroke-width="0.3">p = 1.21e-01</text>
<line x1="410.70" y1="579.50" x2="448.40" y2="579.50" stroke="#7a716b" stroke-width="1.2"/>
<text x="328.90" y="715.20" font-size="8.2" text-anchor="end" fill="#1a1a1a" stroke="#1a1a1a" stroke-width="0.3" transform="rotate(-45 328.90 715.20)">Specific loops</text>
<text x="359.00" y="710.50" font-size="8.2" text-anchor="end" fill="#1a1a1a" stroke="#1a1a1a" stroke-width="0.3" transform="rotate(-45 359.00 710.50)">With</text>
<text x="372.30" y="710.70" font-size="8.2" text-anchor="end" fill="#1a1a1a" stroke="#1a1a1a" stroke-width="0.3" transform="rotate(-45 372.30 710.70)">H3K27ac peak</text>
<text x="400.40" y="711.80" font-size="8.2" text-anchor="end" fill="#1a1a1a" stroke="#1a1a1a" stroke-width="0.3" transform="rotate(-45 400.40 711.80)">Without</text>
<text x="416.00" y="709.90" font-size="8.2" text-anchor="end" fill="#1a1a1a" stroke="#1a1a1a" stroke-width="0.3" transform="rotate(-45 416.00 709.90)">H3K27ac peak</text>
<text x="452.80" y="710.70" font-size="8.2" text-anchor="end" fill="#1a1a1a" stroke="#1a1a1a" stroke-width="0.3" transform="rotate(-45 452.80 710.70)">All</text>
<text x="499.60" y="507.60" font-size="16.5" text-anchor="start" fill="#111" stroke="#111" stroke-width="0.3">k</text>
<text x="610.20" y="516.80" font-size="8.25" text-anchor="middle" fill="#1a1a1a" stroke="#1a1a1a" stroke-width="0.3">PANC1 Vs HPDE6C7</text>
<line x1="534.50" y1="558.90" x2="534.50" y2="697.40" stroke="#3a3a3a" stroke-width="1.0"/>
<line x1="534.00" y1="696.90" x2="704.20" y2="696.90" stroke="#3a3a3a" stroke-width="1.0"/>
<line x1="531.70" y1="696.96" x2="534.50" y2="696.96" stroke="#3a3a3a" stroke-width="1.0"/>
<text x="528.00" y="699.86" font-size="8.2" text-anchor="end" fill="#1a1a1a" stroke="#1a1a1a" stroke-width="0.3">-3</text>
<line x1="531.70" y1="674.04" x2="534.50" y2="674.04" stroke="#3a3a3a" stroke-width="1.0"/>
<text x="528.00" y="676.94" font-size="8.2" text-anchor="end" fill="#1a1a1a" stroke="#1a1a1a" stroke-width="0.3">-2</text>
<line x1="531.70" y1="651.12" x2="534.50" y2="651.12" stroke="#3a3a3a" stroke-width="1.0"/>
<text x="528.00" y="654.02" font-size="8.2" text-anchor="end" fill="#1a1a1a" stroke="#1a1a1a" stroke-width="0.3">-1</text>
<line x1="531.70" y1="628.20" x2="534.50" y2="628.20" stroke="#3a3a3a" stroke-width="1.0"/>
<text x="528.00" y="631.10" font-size="8.2" text-anchor="end" fill="#1a1a1a" stroke="#1a1a1a" stroke-width="0.3">0</text>
<line x1="531.70" y1="605.28" x2="534.50" y2="605.28" stroke="#3a3a3a" stroke-width="1.0"/>
<text x="528.00" y="608.18" font-size="8.2" text-anchor="end" fill="#1a1a1a" stroke="#1a1a1a" stroke-width="0.3">1</text>
<line x1="531.70" y1="582.36" x2="534.50" y2="582.36" stroke="#3a3a3a" stroke-width="1.0"/>
<text x="528.00" y="585.26" font-size="8.2" text-anchor="end" fill="#1a1a1a" stroke="#1a1a1a" stroke-width="0.3">2</text>
<line x1="531.70" y1="559.44" x2="534.50" y2="559.44" stroke="#3a3a3a" stroke-width="1.0"/>
<text x="528.00" y="562.34" font-size="8.2" text-anchor="end" fill="#1a1a1a" stroke="#1a1a1a" stroke-width="0.3">3</text>
<text x="514.20" y="629.20" font-size="8.25" text-anchor="middle" fill="#1a1a1a" stroke="#1a1a1a" stroke-width="0.3" transform="rotate(-90 514.20 629.20)">Gene expression (log2FC)</text>
<line x1="556.00" y1="609.70" x2="556.00" y2="567.60" stroke="#7c8ed9" stroke-width="1.2" stroke-dasharray="5.8 5.5"/>
<line x1="556.00" y1="638.10" x2="556.00" y2="680.00" stroke="#7c8ed9" stroke-width="1.2" stroke-dasharray="5.8 5.5"/>
<line x1="548.40" y1="567.60" x2="563.60" y2="567.60" stroke="#2a2a2a" stroke-width="1.1"/>
<line x1="548.40" y1="680.00" x2="563.60" y2="680.00" stroke="#2a2a2a" stroke-width="1.1"/>
<rect x="541.20" y="609.70" width="29.60" height="28.40" fill="#F37021" stroke="#2a2a2a" stroke-width="1.1"/>
<line x1="541.20" y1="626.40" x2="570.80" y2="626.40" stroke="#2a2a2a" stroke-width="1.3"/>
<line x1="598.20" y1="607.00" x2="598.20" y2="561.30" stroke="#7c8ed9" stroke-width="1.2" stroke-dasharray="5.8 5.5"/>
<line x1="598.20" y1="637.80" x2="598.20" y2="683.30" stroke="#7c8ed9" stroke-width="1.2" stroke-dasharray="5.8 5.5"/>
<line x1="590.60" y1="561.30" x2="605.80" y2="561.30" stroke="#2a2a2a" stroke-width="1.1"/>
<line x1="590.60" y1="683.30" x2="605.80" y2="683.30" stroke="#2a2a2a" stroke-width="1.1"/>
<rect x="583.40" y="607.00" width="29.60" height="30.80" fill="#FCC02A" stroke="#2a2a2a" stroke-width="1.1"/>
<line x1="583.40" y1="624.90" x2="613.00" y2="624.90" stroke="#2a2a2a" stroke-width="1.3"/>
<line x1="640.30" y1="619.60" x2="640.30" y2="588.70" stroke="#7c8ed9" stroke-width="1.2" stroke-dasharray="5.8 5.5"/>
<line x1="640.30" y1="640.60" x2="640.30" y2="669.40" stroke="#7c8ed9" stroke-width="1.2" stroke-dasharray="5.8 5.5"/>
<line x1="632.70" y1="588.70" x2="647.90" y2="588.70" stroke="#2a2a2a" stroke-width="1.1"/>
<line x1="632.70" y1="669.40" x2="647.90" y2="669.40" stroke="#2a2a2a" stroke-width="1.1"/>
<rect x="625.50" y="619.60" width="29.60" height="21.00" fill="#EFE6C9" stroke="#2a2a2a" stroke-width="1.1"/>
<line x1="625.50" y1="628.30" x2="655.10" y2="628.30" stroke="#2a2a2a" stroke-width="1.3"/>
<line x1="682.50" y1="614.50" x2="682.50" y2="577.50" stroke="#7c8ed9" stroke-width="1.2" stroke-dasharray="5.8 5.5"/>
<line x1="682.50" y1="639.30" x2="682.50" y2="675.90" stroke="#7c8ed9" stroke-width="1.2" stroke-dasharray="5.8 5.5"/>
<line x1="674.90" y1="577.50" x2="690.10" y2="577.50" stroke="#2a2a2a" stroke-width="1.1"/>
<line x1="674.90" y1="675.90" x2="690.10" y2="675.90" stroke="#2a2a2a" stroke-width="1.1"/>
<rect x="667.70" y="614.50" width="29.60" height="24.80" fill="#D6A0C4" stroke="#2a2a2a" stroke-width="1.1"/>
<line x1="667.70" y1="628.30" x2="697.30" y2="628.30" stroke="#2a2a2a" stroke-width="1.3"/>
<line x1="556.00" y1="696.90" x2="556.00" y2="700.40" stroke="#3a3a3a" stroke-width="1.0"/>
<line x1="598.20" y1="696.90" x2="598.20" y2="700.40" stroke="#3a3a3a" stroke-width="1.0"/>
<line x1="640.30" y1="696.90" x2="640.30" y2="700.40" stroke="#3a3a3a" stroke-width="1.0"/>
<line x1="682.50" y1="696.90" x2="682.50" y2="700.40" stroke="#3a3a3a" stroke-width="1.0"/>
<text x="617.20" y="530.70" font-size="8.2" text-anchor="middle" fill="#1a1a1a" stroke="#1a1a1a" stroke-width="0.3">p = 5.10e-08</text>
<line x1="559.90" y1="533.20" x2="682.70" y2="533.20" stroke="#7a716b" stroke-width="1.2"/>
<text x="637.90" y="543.80" font-size="8.2" text-anchor="middle" fill="#1a1a1a" stroke="#1a1a1a" stroke-width="0.3">p = 1.64e-15</text>
<line x1="599.00" y1="547.50" x2="682.00" y2="547.50" stroke="#7a716b" stroke-width="1.2"/>
<text x="572.40" y="555.90" font-size="8.2" text-anchor="middle" fill="#1a1a1a" stroke="#1a1a1a" stroke-width="0.3">p = 9.73e-03</text>
<line x1="558.50" y1="557.60" x2="595.90" y2="557.60" stroke="#7a716b" stroke-width="1.2"/>
<text x="661.30" y="567.80" font-size="8.2" text-anchor="middle" fill="#1a1a1a" stroke="#1a1a1a" stroke-width="0.3">p = 2.44e-05</text>
<line x1="644.10" y1="572.50" x2="681.80" y2="572.50" stroke="#7a716b" stroke-width="1.2"/>
<text x="564.10" y="714.80" font-size="8.2" text-anchor="end" fill="#1a1a1a" stroke="#1a1a1a" stroke-width="0.3" transform="rotate(-45 564.10 714.80)">Specific loops</text>
<text x="595.00" y="710.80" font-size="8.2" text-anchor="end" fill="#1a1a1a" stroke="#1a1a1a" stroke-width="0.3" transform="rotate(-45 595.00 710.80)">With</text>
<text x="608.70" y="711.50" font-size="8.2" text-anchor="end" fill="#1a1a1a" stroke="#1a1a1a" stroke-width="0.3" transform="rotate(-45 608.70 711.50)">H3K27ac peak</text>
<text x="636.80" y="711.60" font-size="8.2" text-anchor="end" fill="#1a1a1a" stroke="#1a1a1a" stroke-width="0.3" transform="rotate(-45 636.80 711.60)">Without</text>
<text x="651.50" y="711.20" font-size="8.2" text-anchor="end" fill="#1a1a1a" stroke="#1a1a1a" stroke-width="0.3" transform="rotate(-45 651.50 711.20)">H3K27ac peak</text>
<text x="688.00" y="710.70" font-size="8.2" text-anchor="end" fill="#1a1a1a" stroke="#1a1a1a" stroke-width="0.3" transform="rotate(-45 688.00 710.70)">All</text>
</svg>
</body></html>
